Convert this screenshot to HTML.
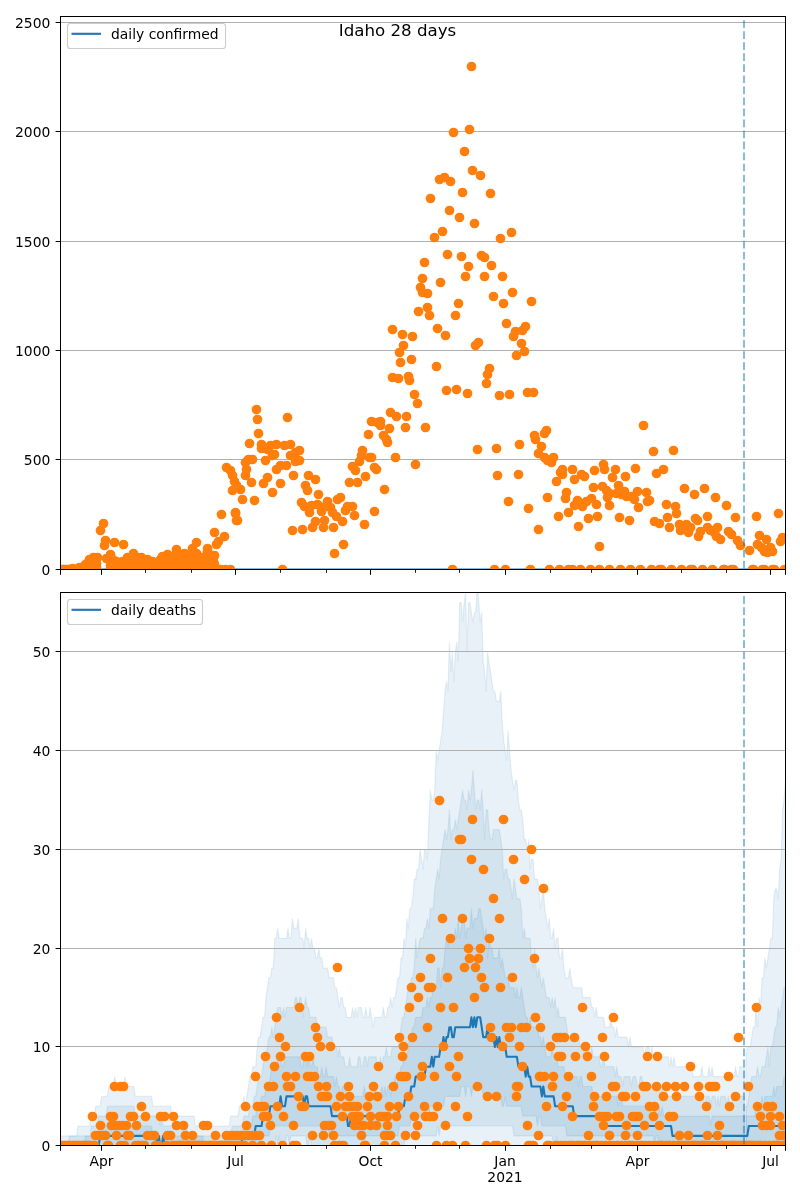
<!DOCTYPE html>
<html lang="en"><head><meta charset="utf-8"><title>Idaho 28 days</title><style>html,body{margin:0;padding:0;background:#fff}body{width:800px;height:1200px;overflow:hidden}</style></head><body>
<svg width="800" height="1200" viewBox="0 0 800 1200" style="display:block;font-family:'DejaVu Sans','Liberation Sans',sans-serif">
<rect width="800" height="1200" fill="#fff"/>
<defs><clipPath id="ct"><rect x="60.5" y="16.5" width="725.0" height="553.0"/></clipPath><clipPath id="cb"><rect x="60.5" y="592.5" width="725.0" height="553.0"/></clipPath></defs>
<g id="top">
<line x1="60.5" x2="785.5" y1="569.50" y2="569.50" stroke="#b0b0b0" stroke-width="1"/>
<line x1="60.5" x2="785.5" y1="459.50" y2="459.50" stroke="#b0b0b0" stroke-width="1"/>
<line x1="60.5" x2="785.5" y1="350.50" y2="350.50" stroke="#b0b0b0" stroke-width="1"/>
<line x1="60.5" x2="785.5" y1="241.50" y2="241.50" stroke="#b0b0b0" stroke-width="1"/>
<line x1="60.5" x2="785.5" y1="131.50" y2="131.50" stroke="#b0b0b0" stroke-width="1"/>
<line x1="60.5" x2="785.5" y1="22.50" y2="22.50" stroke="#b0b0b0" stroke-width="1"/>
<g clip-path="url(#ct)">
<line x1="60.5" x2="785.5" y1="569.5" y2="569.5" stroke="#1f77b4" stroke-width="2.1"/>
<g fill="#ff7f0e"><circle cx="226.5" cy="467.5" r="4.86"/><circle cx="230.5" cy="470.5" r="4.86"/><circle cx="232.5" cy="475.5" r="4.86"/><circle cx="234.5" cy="481.5" r="4.86"/><circle cx="236.5" cy="485.5" r="4.86"/><circle cx="240.5" cy="489.5" r="4.86"/><circle cx="232.5" cy="490.5" r="4.86"/><circle cx="242.5" cy="499.5" r="4.86"/><circle cx="235.5" cy="512.5" r="4.86"/><circle cx="237.5" cy="520.5" r="4.86"/><circle cx="245.5" cy="462.5" r="4.86"/><circle cx="246.5" cy="469.5" r="4.86"/><circle cx="245.5" cy="475.5" r="4.86"/><circle cx="251.5" cy="482.5" r="4.86"/><circle cx="254.5" cy="500.5" r="4.86"/><circle cx="249.5" cy="443.5" r="4.86"/><circle cx="248.5" cy="459.5" r="4.86"/><circle cx="252.5" cy="459.5" r="4.86"/><circle cx="256.5" cy="409.5" r="4.86"/><circle cx="257.5" cy="419.5" r="4.86"/><circle cx="258.5" cy="433.5" r="4.86"/><circle cx="261.5" cy="444.5" r="4.86"/><circle cx="261.5" cy="448.5" r="4.86"/><circle cx="267.5" cy="449.5" r="4.86"/><circle cx="270.5" cy="445.5" r="4.86"/><circle cx="265.5" cy="460.5" r="4.86"/><circle cx="272.5" cy="455.5" r="4.86"/><circle cx="276.5" cy="444.5" r="4.86"/><circle cx="274.5" cy="454.5" r="4.86"/><circle cx="284.5" cy="445.5" r="4.86"/><circle cx="290.5" cy="444.5" r="4.86"/><circle cx="287.5" cy="417.5" r="4.86"/><circle cx="267.5" cy="477.5" r="4.86"/><circle cx="263.5" cy="483.5" r="4.86"/><circle cx="272.5" cy="492.5" r="4.86"/><circle cx="280.5" cy="483.5" r="4.86"/><circle cx="276.5" cy="469.5" r="4.86"/><circle cx="280.5" cy="465.5" r="4.86"/><circle cx="286.5" cy="465.5" r="4.86"/><circle cx="290.5" cy="455.5" r="4.86"/><circle cx="295.5" cy="452.5" r="4.86"/><circle cx="299.5" cy="450.5" r="4.86"/><circle cx="295.5" cy="461.5" r="4.86"/><circle cx="299.5" cy="460.5" r="4.86"/><circle cx="293.5" cy="475.5" r="4.86"/><circle cx="308.5" cy="475.5" r="4.86"/><circle cx="315.5" cy="479.5" r="4.86"/><circle cx="305.5" cy="485.5" r="4.86"/><circle cx="307.5" cy="490.5" r="4.86"/><circle cx="318.5" cy="494.5" r="4.86"/><circle cx="301.5" cy="502.5" r="4.86"/><circle cx="304.5" cy="506.5" r="4.86"/><circle cx="311.5" cy="505.5" r="4.86"/><circle cx="309.5" cy="512.5" r="4.86"/><circle cx="317.5" cy="504.5" r="4.86"/><circle cx="321.5" cy="511.5" r="4.86"/><circle cx="327.5" cy="501.5" r="4.86"/><circle cx="325.5" cy="506.5" r="4.86"/><circle cx="330.5" cy="507.5" r="4.86"/><circle cx="332.5" cy="512.5" r="4.86"/><circle cx="337.5" cy="499.5" r="4.86"/><circle cx="340.5" cy="497.5" r="4.86"/><circle cx="336.5" cy="516.5" r="4.86"/><circle cx="342.5" cy="521.5" r="4.86"/><circle cx="345.5" cy="510.5" r="4.86"/><circle cx="347.5" cy="506.5" r="4.86"/><circle cx="352.5" cy="506.5" r="4.86"/><circle cx="354.5" cy="515.5" r="4.86"/><circle cx="315.5" cy="521.5" r="4.86"/><circle cx="324.5" cy="520.5" r="4.86"/><circle cx="312.5" cy="527.5" r="4.86"/><circle cx="323.5" cy="527.5" r="4.86"/><circle cx="333.5" cy="527.5" r="4.86"/><circle cx="292.5" cy="530.5" r="4.86"/><circle cx="302.5" cy="529.5" r="4.86"/><circle cx="364.5" cy="524.5" r="4.86"/><circle cx="374.5" cy="511.5" r="4.86"/><circle cx="343.5" cy="544.5" r="4.86"/><circle cx="334.5" cy="553.5" r="4.86"/><circle cx="282.5" cy="569.5" r="4.86"/><circle cx="349.5" cy="482.5" r="4.86"/><circle cx="357.5" cy="482.5" r="4.86"/><circle cx="355.5" cy="470.5" r="4.86"/><circle cx="352.5" cy="466.5" r="4.86"/><circle cx="365.5" cy="476.5" r="4.86"/><circle cx="359.5" cy="461.5" r="4.86"/><circle cx="361.5" cy="455.5" r="4.86"/><circle cx="362.5" cy="450.5" r="4.86"/><circle cx="369.5" cy="457.5" r="4.86"/><circle cx="371.5" cy="457.5" r="4.86"/><circle cx="374.5" cy="467.5" r="4.86"/><circle cx="376.5" cy="469.5" r="4.86"/><circle cx="384.5" cy="489.5" r="4.86"/><circle cx="368.5" cy="434.5" r="4.86"/><circle cx="371.5" cy="421.5" r="4.86"/><circle cx="377.5" cy="422.5" r="4.86"/><circle cx="380.5" cy="421.5" r="4.86"/><circle cx="380.5" cy="425.5" r="4.86"/><circle cx="389.5" cy="428.5" r="4.86"/><circle cx="383.5" cy="435.5" r="4.86"/><circle cx="386.5" cy="439.5" r="4.86"/><circle cx="387.5" cy="442.5" r="4.86"/><circle cx="390.5" cy="412.5" r="4.86"/><circle cx="396.5" cy="416.5" r="4.86"/><circle cx="406.5" cy="416.5" r="4.86"/><circle cx="405.5" cy="427.5" r="4.86"/><circle cx="395.5" cy="457.5" r="4.86"/><circle cx="415.5" cy="464.5" r="4.86"/><circle cx="425.5" cy="427.5" r="4.86"/><circle cx="417.5" cy="403.5" r="4.86"/><circle cx="414.5" cy="394.5" r="4.86"/><circle cx="392.5" cy="377.5" r="4.86"/><circle cx="398.5" cy="378.5" r="4.86"/><circle cx="408.5" cy="376.5" r="4.86"/><circle cx="409.5" cy="380.5" r="4.86"/><circle cx="400.5" cy="362.5" r="4.86"/><circle cx="411.5" cy="359.5" r="4.86"/><circle cx="399.5" cy="352.5" r="4.86"/><circle cx="403.5" cy="345.5" r="4.86"/><circle cx="392.5" cy="329.5" r="4.86"/><circle cx="402.5" cy="334.5" r="4.86"/><circle cx="412.5" cy="336.5" r="4.86"/><circle cx="418.5" cy="311.5" r="4.86"/><circle cx="427.5" cy="307.5" r="4.86"/><circle cx="429.5" cy="315.5" r="4.86"/><circle cx="420.5" cy="287.5" r="4.86"/><circle cx="422.5" cy="292.5" r="4.86"/><circle cx="427.5" cy="293.5" r="4.86"/><circle cx="422.5" cy="278.5" r="4.86"/><circle cx="471.5" cy="66.5" r="4.86"/><circle cx="453.5" cy="132.5" r="4.86"/><circle cx="469.5" cy="129.5" r="4.86"/><circle cx="464.5" cy="151.5" r="4.86"/><circle cx="472.5" cy="170.5" r="4.86"/><circle cx="480.5" cy="175.5" r="4.86"/><circle cx="439.5" cy="179.5" r="4.86"/><circle cx="444.5" cy="177.5" r="4.86"/><circle cx="450.5" cy="181.5" r="4.86"/><circle cx="462.5" cy="192.5" r="4.86"/><circle cx="490.5" cy="193.5" r="4.86"/><circle cx="430.5" cy="198.5" r="4.86"/><circle cx="449.5" cy="210.5" r="4.86"/><circle cx="459.5" cy="217.5" r="4.86"/><circle cx="474.5" cy="223.5" r="4.86"/><circle cx="442.5" cy="231.5" r="4.86"/><circle cx="434.5" cy="237.5" r="4.86"/><circle cx="511.5" cy="232.5" r="4.86"/><circle cx="500.5" cy="238.5" r="4.86"/><circle cx="447.5" cy="254.5" r="4.86"/><circle cx="461.5" cy="256.5" r="4.86"/><circle cx="481.5" cy="255.5" r="4.86"/><circle cx="484.5" cy="257.5" r="4.86"/><circle cx="424.5" cy="262.5" r="4.86"/><circle cx="468.5" cy="266.5" r="4.86"/><circle cx="491.5" cy="265.5" r="4.86"/><circle cx="465.5" cy="276.5" r="4.86"/><circle cx="484.5" cy="276.5" r="4.86"/><circle cx="502.5" cy="276.5" r="4.86"/><circle cx="440.5" cy="282.5" r="4.86"/><circle cx="512.5" cy="292.5" r="4.86"/><circle cx="493.5" cy="296.5" r="4.86"/><circle cx="503.5" cy="303.5" r="4.86"/><circle cx="531.5" cy="301.5" r="4.86"/><circle cx="458.5" cy="303.5" r="4.86"/><circle cx="455.5" cy="315.5" r="4.86"/><circle cx="506.5" cy="323.5" r="4.86"/><circle cx="525.5" cy="326.5" r="4.86"/><circle cx="522.5" cy="330.5" r="4.86"/><circle cx="515.5" cy="331.5" r="4.86"/><circle cx="513.5" cy="336.5" r="4.86"/><circle cx="437.5" cy="328.5" r="4.86"/><circle cx="445.5" cy="335.5" r="4.86"/><circle cx="475.5" cy="345.5" r="4.86"/><circle cx="478.5" cy="342.5" r="4.86"/><circle cx="521.5" cy="343.5" r="4.86"/><circle cx="524.5" cy="351.5" r="4.86"/><circle cx="516.5" cy="355.5" r="4.86"/><circle cx="436.5" cy="366.5" r="4.86"/><circle cx="489.5" cy="368.5" r="4.86"/><circle cx="487.5" cy="374.5" r="4.86"/><circle cx="486.5" cy="383.5" r="4.86"/><circle cx="446.5" cy="390.5" r="4.86"/><circle cx="456.5" cy="389.5" r="4.86"/><circle cx="467.5" cy="393.5" r="4.86"/><circle cx="499.5" cy="395.5" r="4.86"/><circle cx="509.5" cy="394.5" r="4.86"/><circle cx="527.5" cy="392.5" r="4.86"/><circle cx="533.5" cy="392.5" r="4.86"/><circle cx="477.5" cy="449.5" r="4.86"/><circle cx="496.5" cy="448.5" r="4.86"/><circle cx="519.5" cy="444.5" r="4.86"/><circle cx="546.5" cy="430.5" r="4.86"/><circle cx="544.5" cy="433.5" r="4.86"/><circle cx="534.5" cy="435.5" r="4.86"/><circle cx="535.5" cy="439.5" r="4.86"/><circle cx="541.5" cy="446.5" r="4.86"/><circle cx="538.5" cy="453.5" r="4.86"/><circle cx="544.5" cy="457.5" r="4.86"/><circle cx="553.5" cy="457.5" r="4.86"/><circle cx="551.5" cy="462.5" r="4.86"/><circle cx="547.5" cy="460.5" r="4.86"/><circle cx="497.5" cy="475.5" r="4.86"/><circle cx="518.5" cy="474.5" r="4.86"/><circle cx="508.5" cy="501.5" r="4.86"/><circle cx="528.5" cy="508.5" r="4.86"/><circle cx="538.5" cy="529.5" r="4.86"/><circle cx="562.5" cy="469.5" r="4.86"/><circle cx="560.5" cy="472.5" r="4.86"/><circle cx="562.5" cy="474.5" r="4.86"/><circle cx="556.5" cy="481.5" r="4.86"/><circle cx="572.5" cy="469.5" r="4.86"/><circle cx="574.5" cy="479.5" r="4.86"/><circle cx="581.5" cy="474.5" r="4.86"/><circle cx="584.5" cy="476.5" r="4.86"/><circle cx="594.5" cy="470.5" r="4.86"/><circle cx="603.5" cy="464.5" r="4.86"/><circle cx="604.5" cy="469.5" r="4.86"/><circle cx="615.5" cy="469.5" r="4.86"/><circle cx="612.5" cy="477.5" r="4.86"/><circle cx="625.5" cy="476.5" r="4.86"/><circle cx="547.5" cy="497.5" r="4.86"/><circle cx="566.5" cy="492.5" r="4.86"/><circle cx="565.5" cy="498.5" r="4.86"/><circle cx="593.5" cy="487.5" r="4.86"/><circle cx="602.5" cy="486.5" r="4.86"/><circle cx="606.5" cy="490.5" r="4.86"/><circle cx="609.5" cy="493.5" r="4.86"/><circle cx="607.5" cy="497.5" r="4.86"/><circle cx="618.5" cy="485.5" r="4.86"/><circle cx="616.5" cy="493.5" r="4.86"/><circle cx="624.5" cy="491.5" r="4.86"/><circle cx="621.5" cy="494.5" r="4.86"/><circle cx="626.5" cy="496.5" r="4.86"/><circle cx="568.5" cy="512.5" r="4.86"/><circle cx="558.5" cy="516.5" r="4.86"/><circle cx="574.5" cy="505.5" r="4.86"/><circle cx="577.5" cy="500.5" r="4.86"/><circle cx="582.5" cy="506.5" r="4.86"/><circle cx="580.5" cy="504.5" r="4.86"/><circle cx="586.5" cy="501.5" r="4.86"/><circle cx="591.5" cy="498.5" r="4.86"/><circle cx="596.5" cy="504.5" r="4.86"/><circle cx="609.5" cy="505.5" r="4.86"/><circle cx="588.5" cy="518.5" r="4.86"/><circle cx="597.5" cy="516.5" r="4.86"/><circle cx="619.5" cy="517.5" r="4.86"/><circle cx="578.5" cy="526.5" r="4.86"/><circle cx="599.5" cy="546.5" r="4.86"/><circle cx="629.5" cy="520.5" r="4.86"/><circle cx="635.5" cy="468.5" r="4.86"/><circle cx="643.5" cy="425.5" r="4.86"/><circle cx="653.5" cy="451.5" r="4.86"/><circle cx="673.5" cy="450.5" r="4.86"/><circle cx="663.5" cy="469.5" r="4.86"/><circle cx="656.5" cy="473.5" r="4.86"/><circle cx="631.5" cy="496.5" r="4.86"/><circle cx="634.5" cy="499.5" r="4.86"/><circle cx="637.5" cy="491.5" r="4.86"/><circle cx="638.5" cy="507.5" r="4.86"/><circle cx="646.5" cy="492.5" r="4.86"/><circle cx="649.5" cy="500.5" r="4.86"/><circle cx="647.5" cy="501.5" r="4.86"/><circle cx="666.5" cy="504.5" r="4.86"/><circle cx="675.5" cy="506.5" r="4.86"/><circle cx="676.5" cy="513.5" r="4.86"/><circle cx="667.5" cy="517.5" r="4.86"/><circle cx="654.5" cy="521.5" r="4.86"/><circle cx="659.5" cy="523.5" r="4.86"/><circle cx="669.5" cy="527.5" r="4.86"/><circle cx="684.5" cy="488.5" r="4.86"/><circle cx="694.5" cy="494.5" r="4.86"/><circle cx="704.5" cy="488.5" r="4.86"/><circle cx="715.5" cy="497.5" r="4.86"/><circle cx="726.5" cy="505.5" r="4.86"/><circle cx="735.5" cy="517.5" r="4.86"/><circle cx="707.5" cy="516.5" r="4.86"/><circle cx="679.5" cy="524.5" r="4.86"/><circle cx="680.5" cy="530.5" r="4.86"/><circle cx="686.5" cy="524.5" r="4.86"/><circle cx="690.5" cy="527.5" r="4.86"/><circle cx="688.5" cy="532.5" r="4.86"/><circle cx="695.5" cy="518.5" r="4.86"/><circle cx="697.5" cy="520.5" r="4.86"/><circle cx="700.5" cy="531.5" r="4.86"/><circle cx="698.5" cy="536.5" r="4.86"/><circle cx="707.5" cy="527.5" r="4.86"/><circle cx="710.5" cy="530.5" r="4.86"/><circle cx="717.5" cy="527.5" r="4.86"/><circle cx="714.5" cy="532.5" r="4.86"/><circle cx="716.5" cy="536.5" r="4.86"/><circle cx="720.5" cy="539.5" r="4.86"/><circle cx="728.5" cy="531.5" r="4.86"/><circle cx="731.5" cy="534.5" r="4.86"/><circle cx="737.5" cy="540.5" r="4.86"/><circle cx="740.5" cy="545.5" r="4.86"/><circle cx="749.5" cy="550.5" r="4.86"/><circle cx="756.5" cy="516.5" r="4.86"/><circle cx="778.5" cy="513.5" r="4.86"/><circle cx="759.5" cy="535.5" r="4.86"/><circle cx="766.5" cy="539.5" r="4.86"/><circle cx="757.5" cy="544.5" r="4.86"/><circle cx="761.5" cy="547.5" r="4.86"/><circle cx="764.5" cy="551.5" r="4.86"/><circle cx="770.5" cy="547.5" r="4.86"/><circle cx="772.5" cy="551.5" r="4.86"/><circle cx="767.5" cy="552.5" r="4.86"/><circle cx="780.5" cy="541.5" r="4.86"/><circle cx="782.5" cy="537.5" r="4.86"/><circle cx="103.5" cy="523.5" r="4.86"/><circle cx="100.5" cy="530.5" r="4.86"/><circle cx="105.5" cy="540.5" r="4.86"/><circle cx="104.5" cy="545.5" r="4.86"/><circle cx="114.5" cy="542.5" r="4.86"/><circle cx="123.5" cy="544.5" r="4.86"/><circle cx="221.5" cy="514.5" r="4.86"/><circle cx="235.5" cy="513.5" r="4.86"/><circle cx="236.5" cy="520.5" r="4.86"/><circle cx="214.5" cy="532.5" r="4.86"/><circle cx="224.5" cy="536.5" r="4.86"/><circle cx="218.5" cy="541.5" r="4.86"/><circle cx="216.5" cy="544.5" r="4.86"/><circle cx="196.5" cy="542.5" r="4.86"/><circle cx="192.5" cy="548.5" r="4.86"/><circle cx="207.5" cy="548.5" r="4.86"/><circle cx="176.5" cy="549.5" r="4.86"/><circle cx="184.5" cy="553.5" r="4.86"/><circle cx="167.5" cy="554.5" r="4.86"/><circle cx="162.5" cy="556.5" r="4.86"/><circle cx="214.5" cy="555.5" r="4.86"/><circle cx="201.5" cy="557.5" r="4.86"/><circle cx="173.5" cy="558.5" r="4.86"/><circle cx="209.5" cy="560.5" r="4.86"/><circle cx="72.5" cy="568.5" r="4.86"/><circle cx="79.5" cy="567.5" r="4.86"/><circle cx="85.5" cy="564.5" r="4.86"/><circle cx="89.5" cy="559.5" r="4.86"/><circle cx="93.5" cy="557.5" r="4.86"/><circle cx="97.5" cy="557.5" r="4.86"/><circle cx="106.5" cy="558.5" r="4.86"/><circle cx="110.5" cy="554.5" r="4.86"/><circle cx="116.5" cy="561.5" r="4.86"/><circle cx="122.5" cy="561.5" r="4.86"/><circle cx="127.5" cy="557.5" r="4.86"/><circle cx="133.5" cy="553.5" r="4.86"/><circle cx="137.5" cy="557.5" r="4.86"/><circle cx="141.5" cy="557.5" r="4.86"/><circle cx="147.5" cy="559.5" r="4.86"/><circle cx="152.5" cy="561.5" r="4.86"/><circle cx="156.5" cy="563.5" r="4.86"/><circle cx="160.5" cy="559.5" r="4.86"/><circle cx="176.5" cy="552.5" r="4.86"/><circle cx="188.5" cy="556.5" r="4.86"/><circle cx="192.5" cy="551.5" r="4.86"/><circle cx="196.5" cy="553.5" r="4.86"/><circle cx="207.5" cy="551.5" r="4.86"/><circle cx="60.5" cy="569.5" r="4.86"/><circle cx="62.5" cy="569.5" r="4.86"/><circle cx="63.5" cy="569.5" r="4.86"/><circle cx="65.5" cy="569.5" r="4.86"/><circle cx="66.5" cy="569.5" r="4.86"/><circle cx="68.5" cy="569.5" r="4.86"/><circle cx="69.5" cy="569.5" r="4.86"/><circle cx="71.5" cy="569.5" r="4.86"/><circle cx="72.5" cy="569.5" r="4.86"/><circle cx="73.5" cy="569.5" r="4.86"/><circle cx="75.5" cy="569.5" r="4.86"/><circle cx="76.5" cy="569.5" r="4.86"/><circle cx="78.5" cy="569.5" r="4.86"/><circle cx="79.5" cy="569.5" r="4.86"/><circle cx="81.5" cy="568.5" r="4.86"/><circle cx="81.5" cy="569.5" r="4.86"/><circle cx="82.5" cy="568.5" r="4.86"/><circle cx="82.5" cy="569.5" r="4.86"/><circle cx="84.5" cy="567.5" r="4.86"/><circle cx="84.5" cy="569.5" r="4.86"/><circle cx="85.5" cy="566.5" r="4.86"/><circle cx="85.5" cy="569.5" r="4.86"/><circle cx="87.5" cy="564.5" r="4.86"/><circle cx="87.5" cy="568.5" r="4.86"/><circle cx="87.5" cy="569.5" r="4.86"/><circle cx="88.5" cy="562.5" r="4.86"/><circle cx="88.5" cy="566.5" r="4.86"/><circle cx="88.5" cy="569.5" r="4.86"/><circle cx="90.5" cy="561.5" r="4.86"/><circle cx="90.5" cy="565.5" r="4.86"/><circle cx="90.5" cy="569.5" r="4.86"/><circle cx="91.5" cy="560.5" r="4.86"/><circle cx="91.5" cy="564.5" r="4.86"/><circle cx="91.5" cy="568.5" r="4.86"/><circle cx="91.5" cy="569.5" r="4.86"/><circle cx="93.5" cy="560.5" r="4.86"/><circle cx="93.5" cy="564.5" r="4.86"/><circle cx="93.5" cy="568.5" r="4.86"/><circle cx="93.5" cy="569.5" r="4.86"/><circle cx="94.5" cy="559.5" r="4.86"/><circle cx="94.5" cy="563.5" r="4.86"/><circle cx="94.5" cy="567.5" r="4.86"/><circle cx="94.5" cy="569.5" r="4.86"/><circle cx="96.5" cy="559.5" r="4.86"/><circle cx="96.5" cy="563.5" r="4.86"/><circle cx="96.5" cy="567.5" r="4.86"/><circle cx="96.5" cy="569.5" r="4.86"/><circle cx="110.5" cy="557.5" r="4.86"/><circle cx="110.5" cy="561.5" r="4.86"/><circle cx="110.5" cy="565.5" r="4.86"/><circle cx="110.5" cy="569.5" r="4.86"/><circle cx="112.5" cy="559.5" r="4.86"/><circle cx="112.5" cy="563.5" r="4.86"/><circle cx="112.5" cy="567.5" r="4.86"/><circle cx="112.5" cy="569.5" r="4.86"/><circle cx="113.5" cy="560.5" r="4.86"/><circle cx="113.5" cy="564.5" r="4.86"/><circle cx="113.5" cy="568.5" r="4.86"/><circle cx="113.5" cy="569.5" r="4.86"/><circle cx="115.5" cy="562.5" r="4.86"/><circle cx="115.5" cy="566.5" r="4.86"/><circle cx="115.5" cy="569.5" r="4.86"/><circle cx="116.5" cy="563.5" r="4.86"/><circle cx="116.5" cy="567.5" r="4.86"/><circle cx="116.5" cy="569.5" r="4.86"/><circle cx="118.5" cy="563.5" r="4.86"/><circle cx="118.5" cy="567.5" r="4.86"/><circle cx="118.5" cy="569.5" r="4.86"/><circle cx="119.5" cy="563.5" r="4.86"/><circle cx="119.5" cy="567.5" r="4.86"/><circle cx="119.5" cy="569.5" r="4.86"/><circle cx="120.5" cy="564.5" r="4.86"/><circle cx="120.5" cy="568.5" r="4.86"/><circle cx="120.5" cy="569.5" r="4.86"/><circle cx="122.5" cy="564.5" r="4.86"/><circle cx="122.5" cy="568.5" r="4.86"/><circle cx="122.5" cy="569.5" r="4.86"/><circle cx="123.5" cy="563.5" r="4.86"/><circle cx="123.5" cy="567.5" r="4.86"/><circle cx="123.5" cy="569.5" r="4.86"/><circle cx="125.5" cy="561.5" r="4.86"/><circle cx="125.5" cy="565.5" r="4.86"/><circle cx="125.5" cy="569.5" r="4.86"/><circle cx="126.5" cy="560.5" r="4.86"/><circle cx="126.5" cy="564.5" r="4.86"/><circle cx="126.5" cy="568.5" r="4.86"/><circle cx="126.5" cy="569.5" r="4.86"/><circle cx="128.5" cy="559.5" r="4.86"/><circle cx="128.5" cy="563.5" r="4.86"/><circle cx="128.5" cy="567.5" r="4.86"/><circle cx="128.5" cy="569.5" r="4.86"/><circle cx="129.5" cy="558.5" r="4.86"/><circle cx="129.5" cy="562.5" r="4.86"/><circle cx="129.5" cy="566.5" r="4.86"/><circle cx="129.5" cy="569.5" r="4.86"/><circle cx="131.5" cy="557.5" r="4.86"/><circle cx="131.5" cy="561.5" r="4.86"/><circle cx="131.5" cy="565.5" r="4.86"/><circle cx="131.5" cy="569.5" r="4.86"/><circle cx="132.5" cy="556.5" r="4.86"/><circle cx="132.5" cy="560.5" r="4.86"/><circle cx="132.5" cy="564.5" r="4.86"/><circle cx="132.5" cy="568.5" r="4.86"/><circle cx="132.5" cy="569.5" r="4.86"/><circle cx="134.5" cy="557.5" r="4.86"/><circle cx="134.5" cy="561.5" r="4.86"/><circle cx="134.5" cy="565.5" r="4.86"/><circle cx="134.5" cy="569.5" r="4.86"/><circle cx="135.5" cy="558.5" r="4.86"/><circle cx="135.5" cy="562.5" r="4.86"/><circle cx="135.5" cy="566.5" r="4.86"/><circle cx="135.5" cy="569.5" r="4.86"/><circle cx="137.5" cy="559.5" r="4.86"/><circle cx="137.5" cy="563.5" r="4.86"/><circle cx="137.5" cy="567.5" r="4.86"/><circle cx="137.5" cy="569.5" r="4.86"/><circle cx="138.5" cy="559.5" r="4.86"/><circle cx="138.5" cy="563.5" r="4.86"/><circle cx="138.5" cy="567.5" r="4.86"/><circle cx="138.5" cy="569.5" r="4.86"/><circle cx="140.5" cy="560.5" r="4.86"/><circle cx="140.5" cy="564.5" r="4.86"/><circle cx="140.5" cy="568.5" r="4.86"/><circle cx="140.5" cy="569.5" r="4.86"/><circle cx="141.5" cy="560.5" r="4.86"/><circle cx="141.5" cy="564.5" r="4.86"/><circle cx="141.5" cy="568.5" r="4.86"/><circle cx="141.5" cy="569.5" r="4.86"/><circle cx="143.5" cy="560.5" r="4.86"/><circle cx="143.5" cy="564.5" r="4.86"/><circle cx="143.5" cy="568.5" r="4.86"/><circle cx="143.5" cy="569.5" r="4.86"/><circle cx="144.5" cy="561.5" r="4.86"/><circle cx="144.5" cy="565.5" r="4.86"/><circle cx="144.5" cy="569.5" r="4.86"/><circle cx="145.5" cy="561.5" r="4.86"/><circle cx="145.5" cy="565.5" r="4.86"/><circle cx="145.5" cy="569.5" r="4.86"/><circle cx="147.5" cy="562.5" r="4.86"/><circle cx="147.5" cy="566.5" r="4.86"/><circle cx="147.5" cy="569.5" r="4.86"/><circle cx="148.5" cy="562.5" r="4.86"/><circle cx="148.5" cy="566.5" r="4.86"/><circle cx="148.5" cy="569.5" r="4.86"/><circle cx="150.5" cy="563.5" r="4.86"/><circle cx="150.5" cy="567.5" r="4.86"/><circle cx="150.5" cy="569.5" r="4.86"/><circle cx="151.5" cy="563.5" r="4.86"/><circle cx="151.5" cy="567.5" r="4.86"/><circle cx="151.5" cy="569.5" r="4.86"/><circle cx="153.5" cy="564.5" r="4.86"/><circle cx="153.5" cy="568.5" r="4.86"/><circle cx="153.5" cy="569.5" r="4.86"/><circle cx="154.5" cy="565.5" r="4.86"/><circle cx="154.5" cy="569.5" r="4.86"/><circle cx="156.5" cy="566.5" r="4.86"/><circle cx="156.5" cy="569.5" r="4.86"/><circle cx="157.5" cy="564.5" r="4.86"/><circle cx="157.5" cy="568.5" r="4.86"/><circle cx="157.5" cy="569.5" r="4.86"/><circle cx="159.5" cy="563.5" r="4.86"/><circle cx="159.5" cy="567.5" r="4.86"/><circle cx="159.5" cy="569.5" r="4.86"/><circle cx="160.5" cy="561.5" r="4.86"/><circle cx="160.5" cy="565.5" r="4.86"/><circle cx="160.5" cy="569.5" r="4.86"/><circle cx="162.5" cy="559.5" r="4.86"/><circle cx="162.5" cy="563.5" r="4.86"/><circle cx="162.5" cy="567.5" r="4.86"/><circle cx="162.5" cy="569.5" r="4.86"/><circle cx="163.5" cy="558.5" r="4.86"/><circle cx="163.5" cy="562.5" r="4.86"/><circle cx="163.5" cy="566.5" r="4.86"/><circle cx="163.5" cy="569.5" r="4.86"/><circle cx="165.5" cy="558.5" r="4.86"/><circle cx="165.5" cy="562.5" r="4.86"/><circle cx="165.5" cy="566.5" r="4.86"/><circle cx="165.5" cy="569.5" r="4.86"/><circle cx="166.5" cy="557.5" r="4.86"/><circle cx="166.5" cy="561.5" r="4.86"/><circle cx="166.5" cy="565.5" r="4.86"/><circle cx="166.5" cy="569.5" r="4.86"/><circle cx="167.5" cy="557.5" r="4.86"/><circle cx="167.5" cy="561.5" r="4.86"/><circle cx="167.5" cy="565.5" r="4.86"/><circle cx="167.5" cy="569.5" r="4.86"/><circle cx="169.5" cy="558.5" r="4.86"/><circle cx="169.5" cy="562.5" r="4.86"/><circle cx="169.5" cy="566.5" r="4.86"/><circle cx="169.5" cy="569.5" r="4.86"/><circle cx="170.5" cy="559.5" r="4.86"/><circle cx="170.5" cy="563.5" r="4.86"/><circle cx="170.5" cy="567.5" r="4.86"/><circle cx="170.5" cy="569.5" r="4.86"/><circle cx="172.5" cy="560.5" r="4.86"/><circle cx="172.5" cy="564.5" r="4.86"/><circle cx="172.5" cy="568.5" r="4.86"/><circle cx="172.5" cy="569.5" r="4.86"/><circle cx="173.5" cy="559.5" r="4.86"/><circle cx="173.5" cy="563.5" r="4.86"/><circle cx="173.5" cy="567.5" r="4.86"/><circle cx="173.5" cy="569.5" r="4.86"/><circle cx="175.5" cy="557.5" r="4.86"/><circle cx="175.5" cy="561.5" r="4.86"/><circle cx="175.5" cy="565.5" r="4.86"/><circle cx="175.5" cy="569.5" r="4.86"/><circle cx="176.5" cy="554.5" r="4.86"/><circle cx="176.5" cy="558.5" r="4.86"/><circle cx="176.5" cy="562.5" r="4.86"/><circle cx="176.5" cy="566.5" r="4.86"/><circle cx="176.5" cy="569.5" r="4.86"/><circle cx="178.5" cy="555.5" r="4.86"/><circle cx="178.5" cy="559.5" r="4.86"/><circle cx="178.5" cy="563.5" r="4.86"/><circle cx="178.5" cy="567.5" r="4.86"/><circle cx="178.5" cy="569.5" r="4.86"/><circle cx="179.5" cy="555.5" r="4.86"/><circle cx="179.5" cy="559.5" r="4.86"/><circle cx="179.5" cy="563.5" r="4.86"/><circle cx="179.5" cy="567.5" r="4.86"/><circle cx="179.5" cy="569.5" r="4.86"/><circle cx="181.5" cy="555.5" r="4.86"/><circle cx="181.5" cy="559.5" r="4.86"/><circle cx="181.5" cy="563.5" r="4.86"/><circle cx="181.5" cy="567.5" r="4.86"/><circle cx="181.5" cy="569.5" r="4.86"/><circle cx="182.5" cy="555.5" r="4.86"/><circle cx="182.5" cy="559.5" r="4.86"/><circle cx="182.5" cy="563.5" r="4.86"/><circle cx="182.5" cy="567.5" r="4.86"/><circle cx="182.5" cy="569.5" r="4.86"/><circle cx="184.5" cy="556.5" r="4.86"/><circle cx="184.5" cy="560.5" r="4.86"/><circle cx="184.5" cy="564.5" r="4.86"/><circle cx="184.5" cy="568.5" r="4.86"/><circle cx="184.5" cy="569.5" r="4.86"/><circle cx="185.5" cy="557.5" r="4.86"/><circle cx="185.5" cy="561.5" r="4.86"/><circle cx="185.5" cy="565.5" r="4.86"/><circle cx="185.5" cy="569.5" r="4.86"/><circle cx="187.5" cy="558.5" r="4.86"/><circle cx="187.5" cy="562.5" r="4.86"/><circle cx="187.5" cy="566.5" r="4.86"/><circle cx="187.5" cy="569.5" r="4.86"/><circle cx="188.5" cy="558.5" r="4.86"/><circle cx="188.5" cy="562.5" r="4.86"/><circle cx="188.5" cy="566.5" r="4.86"/><circle cx="188.5" cy="569.5" r="4.86"/><circle cx="190.5" cy="556.5" r="4.86"/><circle cx="190.5" cy="560.5" r="4.86"/><circle cx="190.5" cy="564.5" r="4.86"/><circle cx="190.5" cy="568.5" r="4.86"/><circle cx="190.5" cy="569.5" r="4.86"/><circle cx="191.5" cy="555.5" r="4.86"/><circle cx="191.5" cy="559.5" r="4.86"/><circle cx="191.5" cy="563.5" r="4.86"/><circle cx="191.5" cy="567.5" r="4.86"/><circle cx="191.5" cy="569.5" r="4.86"/><circle cx="192.5" cy="553.5" r="4.86"/><circle cx="192.5" cy="557.5" r="4.86"/><circle cx="192.5" cy="561.5" r="4.86"/><circle cx="192.5" cy="565.5" r="4.86"/><circle cx="192.5" cy="569.5" r="4.86"/><circle cx="194.5" cy="554.5" r="4.86"/><circle cx="194.5" cy="558.5" r="4.86"/><circle cx="194.5" cy="562.5" r="4.86"/><circle cx="194.5" cy="566.5" r="4.86"/><circle cx="194.5" cy="569.5" r="4.86"/><circle cx="195.5" cy="555.5" r="4.86"/><circle cx="195.5" cy="559.5" r="4.86"/><circle cx="195.5" cy="563.5" r="4.86"/><circle cx="195.5" cy="567.5" r="4.86"/><circle cx="195.5" cy="569.5" r="4.86"/><circle cx="197.5" cy="556.5" r="4.86"/><circle cx="197.5" cy="560.5" r="4.86"/><circle cx="197.5" cy="564.5" r="4.86"/><circle cx="197.5" cy="568.5" r="4.86"/><circle cx="197.5" cy="569.5" r="4.86"/><circle cx="198.5" cy="557.5" r="4.86"/><circle cx="198.5" cy="561.5" r="4.86"/><circle cx="198.5" cy="565.5" r="4.86"/><circle cx="198.5" cy="569.5" r="4.86"/><circle cx="200.5" cy="559.5" r="4.86"/><circle cx="200.5" cy="563.5" r="4.86"/><circle cx="200.5" cy="567.5" r="4.86"/><circle cx="200.5" cy="569.5" r="4.86"/><circle cx="201.5" cy="560.5" r="4.86"/><circle cx="201.5" cy="564.5" r="4.86"/><circle cx="201.5" cy="568.5" r="4.86"/><circle cx="201.5" cy="569.5" r="4.86"/><circle cx="203.5" cy="558.5" r="4.86"/><circle cx="203.5" cy="562.5" r="4.86"/><circle cx="203.5" cy="566.5" r="4.86"/><circle cx="203.5" cy="569.5" r="4.86"/><circle cx="204.5" cy="557.5" r="4.86"/><circle cx="204.5" cy="561.5" r="4.86"/><circle cx="204.5" cy="565.5" r="4.86"/><circle cx="204.5" cy="569.5" r="4.86"/><circle cx="206.5" cy="555.5" r="4.86"/><circle cx="206.5" cy="559.5" r="4.86"/><circle cx="206.5" cy="563.5" r="4.86"/><circle cx="206.5" cy="567.5" r="4.86"/><circle cx="206.5" cy="569.5" r="4.86"/><circle cx="207.5" cy="553.5" r="4.86"/><circle cx="207.5" cy="557.5" r="4.86"/><circle cx="207.5" cy="561.5" r="4.86"/><circle cx="207.5" cy="565.5" r="4.86"/><circle cx="207.5" cy="569.5" r="4.86"/><circle cx="209.5" cy="554.5" r="4.86"/><circle cx="209.5" cy="558.5" r="4.86"/><circle cx="209.5" cy="562.5" r="4.86"/><circle cx="209.5" cy="566.5" r="4.86"/><circle cx="209.5" cy="569.5" r="4.86"/><circle cx="210.5" cy="555.5" r="4.86"/><circle cx="210.5" cy="559.5" r="4.86"/><circle cx="210.5" cy="563.5" r="4.86"/><circle cx="210.5" cy="567.5" r="4.86"/><circle cx="210.5" cy="569.5" r="4.86"/><circle cx="212.5" cy="556.5" r="4.86"/><circle cx="212.5" cy="560.5" r="4.86"/><circle cx="212.5" cy="564.5" r="4.86"/><circle cx="212.5" cy="568.5" r="4.86"/><circle cx="212.5" cy="569.5" r="4.86"/><circle cx="213.5" cy="557.5" r="4.86"/><circle cx="213.5" cy="561.5" r="4.86"/><circle cx="213.5" cy="565.5" r="4.86"/><circle cx="213.5" cy="569.5" r="4.86"/><circle cx="214.5" cy="564.5" r="4.86"/><circle cx="214.5" cy="568.5" r="4.86"/><circle cx="214.5" cy="569.5" r="4.86"/><circle cx="220.5" cy="569.5" r="4.86"/><circle cx="225.5" cy="569.5" r="4.86"/><circle cx="230.5" cy="569.5" r="4.86"/><circle cx="452.5" cy="569.5" r="4.86"/><circle cx="494.5" cy="569.5" r="4.86"/><circle cx="505.5" cy="569.5" r="4.86"/><circle cx="530.5" cy="569.5" r="4.86"/><circle cx="549.5" cy="569.5" r="4.86"/><circle cx="559.5" cy="569.5" r="4.86"/><circle cx="568.5" cy="569.5" r="4.86"/><circle cx="572.5" cy="569.5" r="4.86"/><circle cx="580.5" cy="569.5" r="4.86"/><circle cx="590.5" cy="569.5" r="4.86"/><circle cx="599.5" cy="569.5" r="4.86"/><circle cx="609.5" cy="569.5" r="4.86"/><circle cx="620.5" cy="569.5" r="4.86"/><circle cx="630.5" cy="569.5" r="4.86"/><circle cx="640.5" cy="569.5" r="4.86"/><circle cx="651.5" cy="569.5" r="4.86"/><circle cx="659.5" cy="569.5" r="4.86"/><circle cx="661.5" cy="569.5" r="4.86"/><circle cx="671.5" cy="569.5" r="4.86"/><circle cx="681.5" cy="569.5" r="4.86"/><circle cx="690.5" cy="569.5" r="4.86"/><circle cx="692.5" cy="569.5" r="4.86"/><circle cx="702.5" cy="569.5" r="4.86"/><circle cx="712.5" cy="569.5" r="4.86"/><circle cx="723.5" cy="569.5" r="4.86"/><circle cx="724.5" cy="569.5" r="4.86"/><circle cx="731.5" cy="569.5" r="4.86"/><circle cx="733.5" cy="569.5" r="4.86"/><circle cx="752.5" cy="569.5" r="4.86"/><circle cx="753.5" cy="569.5" r="4.86"/><circle cx="762.5" cy="569.5" r="4.86"/><circle cx="764.5" cy="569.5" r="4.86"/><circle cx="772.5" cy="569.5" r="4.86"/><circle cx="774.5" cy="569.5" r="4.86"/><circle cx="784.5" cy="569.5" r="4.86"/></g>
<line x1="744" x2="744" y1="16.5" y2="569.5" stroke="#1f77b4" stroke-opacity="0.5" stroke-width="2.1" stroke-dasharray="7.7 3.33" stroke-dashoffset="7.28"/>
</g>
<line x1="101.50" x2="101.50" y1="569.5" y2="574.8" stroke="#000" stroke-width="1"/><line x1="145.50" x2="145.50" y1="569.5" y2="572.8" stroke="#000" stroke-width="0.9"/><line x1="191.50" x2="191.50" y1="569.5" y2="572.8" stroke="#000" stroke-width="0.9"/><line x1="235.50" x2="235.50" y1="569.5" y2="574.8" stroke="#000" stroke-width="1"/><line x1="280.50" x2="280.50" y1="569.5" y2="572.8" stroke="#000" stroke-width="0.9"/><line x1="326.50" x2="326.50" y1="569.5" y2="572.8" stroke="#000" stroke-width="0.9"/><line x1="370.50" x2="370.50" y1="569.5" y2="574.8" stroke="#000" stroke-width="1"/><line x1="415.50" x2="415.50" y1="569.5" y2="572.8" stroke="#000" stroke-width="0.9"/><line x1="459.50" x2="459.50" y1="569.5" y2="572.8" stroke="#000" stroke-width="0.9"/><line x1="505.50" x2="505.50" y1="569.5" y2="574.8" stroke="#000" stroke-width="1"/><line x1="550.50" x2="550.50" y1="569.5" y2="572.8" stroke="#000" stroke-width="0.9"/><line x1="591.50" x2="591.50" y1="569.5" y2="572.8" stroke="#000" stroke-width="0.9"/><line x1="637.50" x2="637.50" y1="569.5" y2="574.8" stroke="#000" stroke-width="1"/><line x1="681.50" x2="681.50" y1="569.5" y2="572.8" stroke="#000" stroke-width="0.9"/><line x1="726.50" x2="726.50" y1="569.5" y2="572.8" stroke="#000" stroke-width="0.9"/><line x1="770.50" x2="770.50" y1="569.5" y2="574.8" stroke="#000" stroke-width="1"/><line x1="60.50" x2="60.50" y1="569.5" y2="574.8" stroke="#000" stroke-width="1"/><line x1="785.50" x2="785.50" y1="569.5" y2="574.8" stroke="#000" stroke-width="1"/>
<line x1="55.6" x2="60.5" y1="569.50" y2="569.50" stroke="#000" stroke-width="1"/>
<text x="50.3" y="575.10" font-size="13.89" text-anchor="end">0</text>
<line x1="55.6" x2="60.5" y1="459.50" y2="459.50" stroke="#000" stroke-width="1"/>
<text x="50.3" y="465.10" font-size="13.89" text-anchor="end">500</text>
<line x1="55.6" x2="60.5" y1="350.50" y2="350.50" stroke="#000" stroke-width="1"/>
<text x="50.3" y="356.10" font-size="13.89" text-anchor="end">1000</text>
<line x1="55.6" x2="60.5" y1="241.50" y2="241.50" stroke="#000" stroke-width="1"/>
<text x="50.3" y="247.10" font-size="13.89" text-anchor="end">1500</text>
<line x1="55.6" x2="60.5" y1="131.50" y2="131.50" stroke="#000" stroke-width="1"/>
<text x="50.3" y="137.10" font-size="13.89" text-anchor="end">2000</text>
<line x1="55.6" x2="60.5" y1="22.50" y2="22.50" stroke="#000" stroke-width="1"/>
<text x="50.3" y="28.10" font-size="13.89" text-anchor="end">2500</text>
<rect x="60.5" y="16.5" width="725.0" height="553.0" fill="none" stroke="#000" stroke-width="1"/>
<rect x="67.5" y="23.5" width="158" height="25" rx="2.8" fill="#fff" fill-opacity="0.8" stroke="#ccc" stroke-width="1.1"/>
<line x1="71.5" x2="101" y1="33.8" y2="33.8" stroke="#1f77b4" stroke-width="2.1"/>
<text x="111" y="39" font-size="13.89">daily confirmed</text>
</g>
<text x="397.5" y="36" font-size="16.67" text-anchor="middle">Idaho 28 days</text>
<g id="bot">
<g fill="#1f77b4" fill-opacity="0.1" stroke="#1f77b4" stroke-opacity="0.1" stroke-width="1.2" stroke-linejoin="round" clip-path="url(#cb)">
<polygon points="60.5,1135.9 62.0,1135.9 63.4,1135.9 64.9,1135.9 66.4,1135.9 67.8,1135.9 69.3,1135.9 70.8,1135.9 72.2,1135.9 73.7,1135.9 75.2,1135.9 76.6,1135.9 78.1,1126.0 79.6,1126.0 81.0,1126.0 82.5,1126.0 84.0,1126.0 85.4,1126.0 86.9,1126.0 88.4,1126.0 89.9,1126.0 91.3,1116.1 92.8,1116.1 94.3,1116.1 95.7,1106.2 97.2,1106.2 98.7,1106.2 100.1,1106.2 101.6,1096.4 103.1,1096.4 104.5,1096.4 106.0,1096.4 107.5,1096.4 108.9,1086.5 110.4,1086.5 111.9,1086.5 113.3,1086.5 114.8,1076.6 116.3,1086.5 117.7,1086.5 119.2,1086.5 120.7,1086.5 122.1,1086.5 123.6,1086.5 125.1,1076.6 126.5,1086.5 128.0,1086.5 129.5,1086.5 130.9,1086.5 132.4,1086.5 133.9,1086.5 135.3,1096.4 136.8,1096.4 138.3,1096.4 139.8,1096.4 141.2,1096.4 142.7,1096.4 144.2,1096.4 145.6,1096.4 147.1,1096.4 148.6,1096.4 150.0,1096.4 151.5,1096.4 153.0,1106.2 154.4,1106.2 155.9,1106.2 157.4,1106.2 158.8,1106.2 160.3,1106.2 161.8,1106.2 163.2,1106.2 164.7,1106.2 166.2,1106.2 167.6,1106.2 169.1,1106.2 170.6,1106.2 172.0,1116.1 173.5,1116.1 175.0,1116.1 176.4,1116.1 177.9,1116.1 179.4,1116.1 180.8,1116.1 182.3,1116.1 183.8,1116.1 185.2,1116.1 186.7,1116.1 188.2,1116.1 189.6,1116.1 191.1,1116.1 192.6,1116.1 194.1,1116.1 195.5,1126.0 197.0,1126.0 198.5,1126.0 199.9,1126.0 201.4,1126.0 202.9,1126.0 204.3,1126.0 205.8,1126.0 207.3,1126.0 208.7,1126.0 210.2,1126.0 211.7,1126.0 213.1,1126.0 214.6,1126.0 216.1,1126.0 217.5,1126.0 219.0,1126.0 220.5,1126.0 221.9,1126.0 223.4,1126.0 224.9,1126.0 226.3,1126.0 227.8,1126.0 229.3,1126.0 230.7,1116.1 232.2,1116.1 233.7,1116.1 235.1,1116.1 236.6,1116.1 238.1,1116.1 239.5,1106.2 241.0,1106.2 242.5,1106.2 243.9,1096.4 245.4,1106.2 246.9,1096.4 248.4,1086.5 249.8,1076.6 251.3,1076.6 252.8,1066.7 254.2,1066.7 255.7,1066.7 257.2,1047.0 258.6,1037.1 260.1,1037.1 261.6,1027.2 263.0,1017.3 264.5,1017.3 266.0,997.6 267.4,987.7 268.9,977.8 270.4,977.8 271.8,968.0 273.3,968.0 274.8,938.3 276.2,938.3 277.7,928.4 279.2,938.3 280.6,938.3 282.1,938.3 283.6,938.3 285.0,938.3 286.5,938.3 288.0,928.4 289.4,938.3 290.9,938.3 292.4,918.6 293.8,928.4 295.3,928.4 296.8,928.4 298.3,918.6 299.7,938.3 301.2,938.3 302.7,938.3 304.1,948.2 305.6,928.4 307.1,938.3 308.5,938.3 310.0,948.2 311.5,938.3 312.9,948.2 314.4,948.2 315.9,958.1 317.3,958.1 318.8,948.2 320.3,958.1 321.7,958.1 323.2,968.0 324.7,968.0 326.1,968.0 327.6,968.0 329.1,977.8 330.5,977.8 332.0,977.8 333.5,977.8 334.9,987.7 336.4,987.7 337.9,997.6 339.3,1007.5 340.8,997.6 342.3,997.6 343.7,1007.5 345.2,1007.5 346.7,1017.3 348.1,1017.3 349.6,1017.3 351.1,1017.3 352.6,1007.5 354.0,1017.3 355.5,1007.5 357.0,1017.3 358.4,1007.5 359.9,1007.5 361.4,1007.5 362.8,1017.3 364.3,1017.3 365.8,1007.5 367.2,1017.3 368.7,1017.3 370.2,1007.5 371.6,1017.3 373.1,1027.2 374.6,1017.3 376.0,1017.3 377.5,1017.3 379.0,1017.3 380.4,1017.3 381.9,1017.3 383.4,1007.5 384.8,1017.3 386.3,1017.3 387.8,1007.5 389.2,1007.5 390.7,997.6 392.2,1007.5 393.6,997.6 395.1,997.6 396.6,987.7 398.0,977.8 399.5,977.8 401.0,958.1 402.5,958.1 403.9,938.3 405.4,948.2 406.9,918.6 408.3,928.4 409.8,908.7 411.3,908.7 412.7,898.8 414.2,879.1 415.7,879.1 417.1,869.2 418.6,869.2 420.1,849.4 421.5,859.3 423.0,869.2 424.5,849.4 425.9,849.4 427.4,859.3 428.9,819.8 430.3,790.2 431.8,800.0 433.3,800.0 434.7,790.2 436.2,750.7 437.7,760.5 439.1,750.7 440.6,740.8 442.1,730.9 443.5,711.2 445.0,691.4 446.5,681.5 447.9,691.4 449.4,642.0 450.9,671.6 452.3,651.9 453.8,681.5 455.3,651.9 456.8,642.0 458.2,661.8 459.7,602.5 461.2,602.5 462.6,622.3 464.1,602.5 465.6,592.6 467.0,651.9 468.5,602.5 470.0,602.5 471.4,612.4 472.9,622.3 474.4,612.4 475.8,612.4 477.3,582.8 478.8,602.5 480.2,622.3 481.7,612.4 483.2,661.8 484.6,671.6 486.1,691.4 487.6,651.9 489.0,661.8 490.5,671.6 492.0,681.5 493.4,691.4 494.9,691.4 496.4,701.3 497.8,701.3 499.3,701.3 500.8,691.4 502.2,721.0 503.7,740.8 505.2,750.7 506.7,760.5 508.1,730.9 509.6,750.7 511.1,770.4 512.5,780.3 514.0,790.2 515.5,780.3 516.9,780.3 518.4,800.0 519.9,809.9 521.3,809.9 522.8,819.8 524.3,839.6 525.7,839.6 527.2,849.4 528.7,839.6 530.1,869.2 531.6,859.3 533.1,859.3 534.5,879.1 536.0,879.1 537.5,879.1 538.9,888.9 540.4,908.7 541.9,898.8 543.3,888.9 544.8,908.7 546.3,918.6 547.7,928.4 549.2,918.6 550.7,938.3 552.1,938.3 553.6,928.4 555.1,948.2 556.5,938.3 558.0,938.3 559.5,958.1 561.0,958.1 562.4,948.2 563.9,968.0 565.4,977.8 566.8,977.8 568.3,977.8 569.8,968.0 571.2,977.8 572.7,987.7 574.2,987.7 575.6,987.7 577.1,987.7 578.6,987.7 580.0,987.7 581.5,987.7 583.0,997.6 584.4,997.6 585.9,997.6 587.4,997.6 588.8,997.6 590.3,997.6 591.8,1007.5 593.2,1007.5 594.7,1017.3 596.2,1007.5 597.6,1017.3 599.1,1017.3 600.6,1017.3 602.0,1017.3 603.5,1017.3 605.0,1027.2 606.4,1027.2 607.9,1027.2 609.4,1027.2 610.9,1017.3 612.3,1027.2 613.8,1027.2 615.3,1037.1 616.7,1027.2 618.2,1037.1 619.7,1037.1 621.1,1037.1 622.6,1037.1 624.1,1037.1 625.5,1037.1 627.0,1037.1 628.5,1047.0 629.9,1037.1 631.4,1047.0 632.9,1047.0 634.3,1047.0 635.8,1047.0 637.3,1047.0 638.7,1047.0 640.2,1047.0 641.7,1047.0 643.1,1047.0 644.6,1056.8 646.1,1047.0 647.5,1047.0 649.0,1047.0 650.5,1056.8 651.9,1047.0 653.4,1056.8 654.9,1056.8 656.3,1056.8 657.8,1056.8 659.3,1056.8 660.7,1056.8 662.2,1056.8 663.7,1056.8 665.2,1056.8 666.6,1056.8 668.1,1056.8 669.6,1066.7 671.0,1056.8 672.5,1066.7 674.0,1056.8 675.4,1066.7 676.9,1066.7 678.4,1066.7 679.8,1066.7 681.3,1066.7 682.8,1066.7 684.2,1066.7 685.7,1066.7 687.2,1066.7 688.6,1066.7 690.1,1066.7 691.6,1066.7 693.0,1076.6 694.5,1076.6 696.0,1076.6 697.4,1076.6 698.9,1076.6 700.4,1076.6 701.8,1066.7 703.3,1076.6 704.8,1076.6 706.2,1076.6 707.7,1076.6 709.2,1066.7 710.6,1076.6 712.1,1066.7 713.6,1076.6 715.0,1076.6 716.5,1076.6 718.0,1076.6 719.5,1076.6 720.9,1076.6 722.4,1076.6 723.9,1076.6 725.3,1076.6 726.8,1076.6 728.3,1076.6 729.7,1076.6 731.2,1076.6 732.7,1076.6 734.1,1076.6 735.6,1066.7 737.1,1076.6 738.5,1076.6 740.0,1066.7 741.5,1066.7 742.9,1066.7 744.4,1066.7 744.4,1145.7 742.9,1145.7 741.5,1145.7 740.0,1145.7 738.5,1145.7 737.1,1145.7 735.6,1145.7 734.1,1145.7 732.7,1145.7 731.2,1145.7 729.7,1145.7 728.3,1145.7 726.8,1145.7 725.3,1145.7 723.9,1145.7 722.4,1145.7 720.9,1145.7 719.5,1145.7 718.0,1145.7 716.5,1145.7 715.0,1145.7 713.6,1145.7 712.1,1145.7 710.6,1145.7 709.2,1145.7 707.7,1145.7 706.2,1145.7 704.8,1145.7 703.3,1145.7 701.8,1145.7 700.4,1145.7 698.9,1145.7 697.4,1145.7 696.0,1145.7 694.5,1145.7 693.0,1145.7 691.6,1145.7 690.1,1145.7 688.6,1145.7 687.2,1145.7 685.7,1145.7 684.2,1145.7 682.8,1145.7 681.3,1145.7 679.8,1145.7 678.4,1145.7 676.9,1145.7 675.4,1145.7 674.0,1145.7 672.5,1145.7 671.0,1145.7 669.6,1145.7 668.1,1145.7 666.6,1145.7 665.2,1145.7 663.7,1145.7 662.2,1145.7 660.7,1145.7 659.3,1145.7 657.8,1145.7 656.3,1145.7 654.9,1145.7 653.4,1145.7 651.9,1145.7 650.5,1145.7 649.0,1145.7 647.5,1145.7 646.1,1145.7 644.6,1145.7 643.1,1145.7 641.7,1145.7 640.2,1145.7 638.7,1145.7 637.3,1145.7 635.8,1145.7 634.3,1145.7 632.9,1145.7 631.4,1145.7 629.9,1145.7 628.5,1145.7 627.0,1145.7 625.5,1145.7 624.1,1145.7 622.6,1145.7 621.1,1145.7 619.7,1145.7 618.2,1145.7 616.7,1145.7 615.3,1145.7 613.8,1145.7 612.3,1145.7 610.9,1145.7 609.4,1145.7 607.9,1145.7 606.4,1145.7 605.0,1145.7 603.5,1145.7 602.0,1145.7 600.6,1145.7 599.1,1145.7 597.6,1145.7 596.2,1145.7 594.7,1145.7 593.2,1145.7 591.8,1145.7 590.3,1145.7 588.8,1145.7 587.4,1145.7 585.9,1145.7 584.4,1145.7 583.0,1145.7 581.5,1145.7 580.0,1145.7 578.6,1145.7 577.1,1145.7 575.6,1145.7 574.2,1145.7 572.7,1145.7 571.2,1145.7 569.8,1145.7 568.3,1145.7 566.8,1145.7 565.4,1145.7 563.9,1145.7 562.4,1145.7 561.0,1145.7 559.5,1145.7 558.0,1145.7 556.5,1145.7 555.1,1145.7 553.6,1145.7 552.1,1145.7 550.7,1145.7 549.2,1145.7 547.7,1145.7 546.3,1145.7 544.8,1145.7 543.3,1145.7 541.9,1145.7 540.4,1145.7 538.9,1145.7 537.5,1145.7 536.0,1145.7 534.5,1145.7 533.1,1145.7 531.6,1145.7 530.1,1145.7 528.7,1145.7 527.2,1145.7 525.7,1145.7 524.3,1145.7 522.8,1145.7 521.3,1145.7 519.9,1145.7 518.4,1145.7 516.9,1145.7 515.5,1145.7 514.0,1145.7 512.5,1145.7 511.1,1145.7 509.6,1145.7 508.1,1145.7 506.7,1145.7 505.2,1145.7 503.7,1145.7 502.2,1145.7 500.8,1145.7 499.3,1145.7 497.8,1145.7 496.4,1145.7 494.9,1145.7 493.4,1145.7 492.0,1145.7 490.5,1145.7 489.0,1145.7 487.6,1145.7 486.1,1145.7 484.6,1145.7 483.2,1145.7 481.7,1145.7 480.2,1145.7 478.8,1145.7 477.3,1145.7 475.8,1145.7 474.4,1145.7 472.9,1145.7 471.4,1145.7 470.0,1145.7 468.5,1145.7 467.0,1145.7 465.6,1145.7 464.1,1145.7 462.6,1145.7 461.2,1145.7 459.7,1145.7 458.2,1145.7 456.8,1145.7 455.3,1145.7 453.8,1145.7 452.3,1145.7 450.9,1145.7 449.4,1145.7 447.9,1145.7 446.5,1145.7 445.0,1145.7 443.5,1145.7 442.1,1145.7 440.6,1145.7 439.1,1145.7 437.7,1145.7 436.2,1145.7 434.7,1145.7 433.3,1145.7 431.8,1145.7 430.3,1145.7 428.9,1145.7 427.4,1145.7 425.9,1145.7 424.5,1145.7 423.0,1145.7 421.5,1145.7 420.1,1145.7 418.6,1145.7 417.1,1145.7 415.7,1145.7 414.2,1145.7 412.7,1145.7 411.3,1145.7 409.8,1145.7 408.3,1145.7 406.9,1145.7 405.4,1145.7 403.9,1145.7 402.5,1145.7 401.0,1145.7 399.5,1145.7 398.0,1145.7 396.6,1145.7 395.1,1145.7 393.6,1145.7 392.2,1145.7 390.7,1145.7 389.2,1145.7 387.8,1145.7 386.3,1145.7 384.8,1145.7 383.4,1145.7 381.9,1145.7 380.4,1145.7 379.0,1145.7 377.5,1145.7 376.0,1145.7 374.6,1145.7 373.1,1145.7 371.6,1145.7 370.2,1145.7 368.7,1145.7 367.2,1145.7 365.8,1145.7 364.3,1145.7 362.8,1145.7 361.4,1145.7 359.9,1145.7 358.4,1145.7 357.0,1145.7 355.5,1145.7 354.0,1145.7 352.6,1145.7 351.1,1145.7 349.6,1145.7 348.1,1145.7 346.7,1145.7 345.2,1145.7 343.7,1145.7 342.3,1145.7 340.8,1145.7 339.3,1145.7 337.9,1145.7 336.4,1145.7 334.9,1145.7 333.5,1145.7 332.0,1145.7 330.5,1145.7 329.1,1145.7 327.6,1145.7 326.1,1145.7 324.7,1145.7 323.2,1145.7 321.7,1145.7 320.3,1145.7 318.8,1145.7 317.3,1145.7 315.9,1145.7 314.4,1145.7 312.9,1145.7 311.5,1145.7 310.0,1145.7 308.5,1145.7 307.1,1145.7 305.6,1145.7 304.1,1145.7 302.7,1145.7 301.2,1145.7 299.7,1145.7 298.3,1145.7 296.8,1145.7 295.3,1145.7 293.8,1145.7 292.4,1145.7 290.9,1145.7 289.4,1145.7 288.0,1145.7 286.5,1145.7 285.0,1145.7 283.6,1145.7 282.1,1145.7 280.6,1145.7 279.2,1145.7 277.7,1145.7 276.2,1145.7 274.8,1145.7 273.3,1145.7 271.8,1145.7 270.4,1145.7 268.9,1145.7 267.4,1145.7 266.0,1145.7 264.5,1145.7 263.0,1145.7 261.6,1145.7 260.1,1145.7 258.6,1145.7 257.2,1145.7 255.7,1145.7 254.2,1145.7 252.8,1145.7 251.3,1145.7 249.8,1145.7 248.4,1145.7 246.9,1145.7 245.4,1145.7 243.9,1145.7 242.5,1145.7 241.0,1145.7 239.5,1145.7 238.1,1145.7 236.6,1145.7 235.1,1145.7 233.7,1145.7 232.2,1145.7 230.7,1145.7 229.3,1145.7 227.8,1145.7 226.3,1145.7 224.9,1145.7 223.4,1145.7 221.9,1145.7 220.5,1145.7 219.0,1145.7 217.5,1145.7 216.1,1145.7 214.6,1145.7 213.1,1145.7 211.7,1145.7 210.2,1145.7 208.7,1145.7 207.3,1145.7 205.8,1145.7 204.3,1145.7 202.9,1145.7 201.4,1145.7 199.9,1145.7 198.5,1145.7 197.0,1145.7 195.5,1145.7 194.1,1145.7 192.6,1145.7 191.1,1145.7 189.6,1145.7 188.2,1145.7 186.7,1145.7 185.2,1145.7 183.8,1145.7 182.3,1145.7 180.8,1145.7 179.4,1145.7 177.9,1145.7 176.4,1145.7 175.0,1145.7 173.5,1145.7 172.0,1145.7 170.6,1145.7 169.1,1145.7 167.6,1145.7 166.2,1145.7 164.7,1145.7 163.2,1145.7 161.8,1145.7 160.3,1145.7 158.8,1145.7 157.4,1145.7 155.9,1145.7 154.4,1145.7 153.0,1145.7 151.5,1145.7 150.0,1145.7 148.6,1145.7 147.1,1145.7 145.6,1145.7 144.2,1145.7 142.7,1145.7 141.2,1145.7 139.8,1145.7 138.3,1145.7 136.8,1145.7 135.3,1145.7 133.9,1145.7 132.4,1145.7 130.9,1145.7 129.5,1145.7 128.0,1145.7 126.5,1145.7 125.1,1145.7 123.6,1145.7 122.1,1145.7 120.7,1145.7 119.2,1145.7 117.7,1145.7 116.3,1145.7 114.8,1145.7 113.3,1145.7 111.9,1145.7 110.4,1145.7 108.9,1145.7 107.5,1145.7 106.0,1145.7 104.5,1145.7 103.1,1145.7 101.6,1145.7 100.1,1145.7 98.7,1145.7 97.2,1145.7 95.7,1145.7 94.3,1145.7 92.8,1145.7 91.3,1145.7 89.9,1145.7 88.4,1145.7 86.9,1145.7 85.4,1145.7 84.0,1145.7 82.5,1145.7 81.0,1145.7 79.6,1145.7 78.1,1145.7 76.6,1145.7 75.2,1145.7 73.7,1145.7 72.2,1145.7 70.8,1145.7 69.3,1145.7 67.8,1145.7 66.4,1145.7 64.9,1145.7 63.4,1145.7 62.0,1145.7 60.5,1145.7"/>
<polygon points="60.5,1145.7 62.0,1145.7 63.4,1145.7 64.9,1145.7 66.4,1145.7 67.8,1145.7 69.3,1135.9 70.8,1135.9 72.2,1135.9 73.7,1135.9 75.2,1135.9 76.6,1135.9 78.1,1135.9 79.6,1135.9 81.0,1135.9 82.5,1135.9 84.0,1135.9 85.4,1135.9 86.9,1135.9 88.4,1135.9 89.9,1135.9 91.3,1126.0 92.8,1126.0 94.3,1126.0 95.7,1126.0 97.2,1126.0 98.7,1116.1 100.1,1116.1 101.6,1116.1 103.1,1116.1 104.5,1116.1 106.0,1116.1 107.5,1106.2 108.9,1106.2 110.4,1106.2 111.9,1106.2 113.3,1106.2 114.8,1106.2 116.3,1106.2 117.7,1106.2 119.2,1106.2 120.7,1106.2 122.1,1106.2 123.6,1106.2 125.1,1106.2 126.5,1106.2 128.0,1106.2 129.5,1106.2 130.9,1106.2 132.4,1106.2 133.9,1106.2 135.3,1116.1 136.8,1116.1 138.3,1116.1 139.8,1116.1 141.2,1116.1 142.7,1116.1 144.2,1116.1 145.6,1116.1 147.1,1116.1 148.6,1116.1 150.0,1116.1 151.5,1116.1 153.0,1116.1 154.4,1116.1 155.9,1116.1 157.4,1116.1 158.8,1116.1 160.3,1126.0 161.8,1116.1 163.2,1126.0 164.7,1126.0 166.2,1126.0 167.6,1126.0 169.1,1126.0 170.6,1126.0 172.0,1126.0 173.5,1126.0 175.0,1126.0 176.4,1126.0 177.9,1126.0 179.4,1126.0 180.8,1126.0 182.3,1126.0 183.8,1126.0 185.2,1126.0 186.7,1126.0 188.2,1135.9 189.6,1135.9 191.1,1135.9 192.6,1135.9 194.1,1135.9 195.5,1135.9 197.0,1135.9 198.5,1135.9 199.9,1135.9 201.4,1135.9 202.9,1135.9 204.3,1135.9 205.8,1135.9 207.3,1135.9 208.7,1135.9 210.2,1135.9 211.7,1135.9 213.1,1135.9 214.6,1135.9 216.1,1135.9 217.5,1135.9 219.0,1135.9 220.5,1135.9 221.9,1135.9 223.4,1135.9 224.9,1135.9 226.3,1135.9 227.8,1135.9 229.3,1135.9 230.7,1135.9 232.2,1126.0 233.7,1126.0 235.1,1126.0 236.6,1126.0 238.1,1126.0 239.5,1126.0 241.0,1126.0 242.5,1126.0 243.9,1116.1 245.4,1116.1 246.9,1116.1 248.4,1116.1 249.8,1106.2 251.3,1106.2 252.8,1106.2 254.2,1096.4 255.7,1096.4 257.2,1086.5 258.6,1076.6 260.1,1076.6 261.6,1076.6 263.0,1066.7 264.5,1056.8 266.0,1056.8 267.4,1047.0 268.9,1037.1 270.4,1037.1 271.8,1027.2 273.3,1037.1 274.8,1027.2 276.2,1017.3 277.7,1007.5 279.2,1007.5 280.6,1007.5 282.1,1017.3 283.6,1007.5 285.0,1017.3 286.5,1007.5 288.0,1007.5 289.4,1007.5 290.9,1007.5 292.4,1007.5 293.8,1007.5 295.3,997.6 296.8,997.6 298.3,1007.5 299.7,997.6 301.2,997.6 302.7,1017.3 304.1,1007.5 305.6,997.6 307.1,1007.5 308.5,1007.5 310.0,1017.3 311.5,1017.3 312.9,1017.3 314.4,1017.3 315.9,1017.3 317.3,1027.2 318.8,1027.2 320.3,1027.2 321.7,1027.2 323.2,1027.2 324.7,1027.2 326.1,1027.2 327.6,1037.1 329.1,1037.1 330.5,1037.1 332.0,1037.1 333.5,1047.0 334.9,1047.0 336.4,1047.0 337.9,1056.8 339.3,1047.0 340.8,1056.8 342.3,1056.8 343.7,1056.8 345.2,1066.7 346.7,1066.7 348.1,1066.7 349.6,1056.8 351.1,1066.7 352.6,1066.7 354.0,1066.7 355.5,1066.7 357.0,1066.7 358.4,1056.8 359.9,1056.8 361.4,1066.7 362.8,1066.7 364.3,1056.8 365.8,1056.8 367.2,1066.7 368.7,1056.8 370.2,1056.8 371.6,1056.8 373.1,1056.8 374.6,1056.8 376.0,1056.8 377.5,1066.7 379.0,1066.7 380.4,1056.8 381.9,1066.7 383.4,1056.8 384.8,1056.8 386.3,1047.0 387.8,1056.8 389.2,1056.8 390.7,1056.8 392.2,1047.0 393.6,1047.0 395.1,1047.0 396.6,1047.0 398.0,1047.0 399.5,1037.1 401.0,1027.2 402.5,1017.3 403.9,1017.3 405.4,1007.5 406.9,997.6 408.3,987.7 409.8,987.7 411.3,977.8 412.7,977.8 414.2,968.0 415.7,938.3 417.1,958.1 418.6,948.2 420.1,938.3 421.5,938.3 423.0,938.3 424.5,928.4 425.9,928.4 427.4,918.6 428.9,928.4 430.3,908.7 431.8,908.7 433.3,908.7 434.7,888.9 436.2,879.1 437.7,869.2 439.1,879.1 440.6,859.3 442.1,849.4 443.5,839.6 445.0,829.7 446.5,839.6 447.9,829.7 449.4,809.9 450.9,839.6 452.3,829.7 453.8,829.7 455.3,819.8 456.8,829.7 458.2,819.8 459.7,809.9 461.2,800.0 462.6,790.2 464.1,800.0 465.6,800.0 467.0,809.9 468.5,790.2 470.0,800.0 471.4,790.2 472.9,770.4 474.4,790.2 475.8,809.9 477.3,800.0 478.8,800.0 480.2,809.9 481.7,790.2 483.2,809.9 484.6,839.6 486.1,809.9 487.6,809.9 489.0,829.7 490.5,839.6 492.0,839.6 493.4,829.7 494.9,829.7 496.4,829.7 497.8,829.7 499.3,829.7 500.8,839.6 502.2,849.4 503.7,879.1 505.2,869.2 506.7,869.2 508.1,879.1 509.6,879.1 511.1,888.9 512.5,898.8 514.0,879.1 515.5,888.9 516.9,898.8 518.4,898.8 519.9,898.8 521.3,908.7 522.8,938.3 524.3,928.4 525.7,938.3 527.2,938.3 528.7,938.3 530.1,938.3 531.6,958.1 533.1,968.0 534.5,948.2 536.0,968.0 537.5,977.8 538.9,968.0 540.4,977.8 541.9,987.7 543.3,977.8 544.8,987.7 546.3,997.6 547.7,997.6 549.2,997.6 550.7,1007.5 552.1,997.6 553.6,1007.5 555.1,997.6 556.5,1017.3 558.0,1007.5 559.5,1017.3 561.0,1017.3 562.4,1017.3 563.9,1017.3 565.4,1017.3 566.8,1027.2 568.3,1037.1 569.8,1037.1 571.2,1037.1 572.7,1037.1 574.2,1037.1 575.6,1037.1 577.1,1037.1 578.6,1037.1 580.0,1047.0 581.5,1047.0 583.0,1047.0 584.4,1056.8 585.9,1047.0 587.4,1056.8 588.8,1047.0 590.3,1056.8 591.8,1047.0 593.2,1056.8 594.7,1056.8 596.2,1056.8 597.6,1056.8 599.1,1056.8 600.6,1066.7 602.0,1066.7 603.5,1056.8 605.0,1066.7 606.4,1066.7 607.9,1066.7 609.4,1066.7 610.9,1066.7 612.3,1066.7 613.8,1066.7 615.3,1076.6 616.7,1066.7 618.2,1076.6 619.7,1076.6 621.1,1076.6 622.6,1086.5 624.1,1076.6 625.5,1076.6 627.0,1076.6 628.5,1076.6 629.9,1076.6 631.4,1086.5 632.9,1076.6 634.3,1076.6 635.8,1076.6 637.3,1086.5 638.7,1086.5 640.2,1076.6 641.7,1076.6 643.1,1086.5 644.6,1086.5 646.1,1086.5 647.5,1086.5 649.0,1086.5 650.5,1086.5 651.9,1086.5 653.4,1086.5 654.9,1086.5 656.3,1086.5 657.8,1086.5 659.3,1086.5 660.7,1096.4 662.2,1086.5 663.7,1096.4 665.2,1096.4 666.6,1096.4 668.1,1096.4 669.6,1096.4 671.0,1096.4 672.5,1096.4 674.0,1096.4 675.4,1096.4 676.9,1086.5 678.4,1096.4 679.8,1096.4 681.3,1096.4 682.8,1096.4 684.2,1096.4 685.7,1096.4 687.2,1096.4 688.6,1096.4 690.1,1096.4 691.6,1096.4 693.0,1096.4 694.5,1096.4 696.0,1096.4 697.4,1096.4 698.9,1096.4 700.4,1096.4 701.8,1096.4 703.3,1096.4 704.8,1106.2 706.2,1096.4 707.7,1096.4 709.2,1096.4 710.6,1106.2 712.1,1096.4 713.6,1096.4 715.0,1096.4 716.5,1106.2 718.0,1096.4 719.5,1106.2 720.9,1096.4 722.4,1096.4 723.9,1096.4 725.3,1096.4 726.8,1106.2 728.3,1096.4 729.7,1106.2 731.2,1106.2 732.7,1096.4 734.1,1096.4 735.6,1096.4 737.1,1096.4 738.5,1096.4 740.0,1096.4 741.5,1096.4 742.9,1096.4 744.4,1096.4 744.4,1145.7 742.9,1145.7 741.5,1145.7 740.0,1145.7 738.5,1145.7 737.1,1145.7 735.6,1145.7 734.1,1145.7 732.7,1145.7 731.2,1145.7 729.7,1145.7 728.3,1145.7 726.8,1145.7 725.3,1145.7 723.9,1145.7 722.4,1145.7 720.9,1145.7 719.5,1145.7 718.0,1145.7 716.5,1145.7 715.0,1145.7 713.6,1145.7 712.1,1145.7 710.6,1145.7 709.2,1145.7 707.7,1145.7 706.2,1145.7 704.8,1145.7 703.3,1145.7 701.8,1145.7 700.4,1145.7 698.9,1145.7 697.4,1145.7 696.0,1145.7 694.5,1145.7 693.0,1145.7 691.6,1145.7 690.1,1145.7 688.6,1145.7 687.2,1145.7 685.7,1145.7 684.2,1145.7 682.8,1145.7 681.3,1145.7 679.8,1145.7 678.4,1145.7 676.9,1145.7 675.4,1145.7 674.0,1145.7 672.5,1145.7 671.0,1145.7 669.6,1145.7 668.1,1145.7 666.6,1145.7 665.2,1145.7 663.7,1145.7 662.2,1145.7 660.7,1145.7 659.3,1145.7 657.8,1145.7 656.3,1145.7 654.9,1145.7 653.4,1145.7 651.9,1145.7 650.5,1145.7 649.0,1145.7 647.5,1145.7 646.1,1145.7 644.6,1145.7 643.1,1145.7 641.7,1145.7 640.2,1145.7 638.7,1145.7 637.3,1145.7 635.8,1145.7 634.3,1145.7 632.9,1145.7 631.4,1145.7 629.9,1145.7 628.5,1145.7 627.0,1145.7 625.5,1145.7 624.1,1145.7 622.6,1145.7 621.1,1145.7 619.7,1145.7 618.2,1145.7 616.7,1145.7 615.3,1145.7 613.8,1145.7 612.3,1145.7 610.9,1145.7 609.4,1145.7 607.9,1145.7 606.4,1145.7 605.0,1145.7 603.5,1145.7 602.0,1145.7 600.6,1145.7 599.1,1145.7 597.6,1145.7 596.2,1145.7 594.7,1145.7 593.2,1145.7 591.8,1145.7 590.3,1145.7 588.8,1145.7 587.4,1145.7 585.9,1145.7 584.4,1145.7 583.0,1145.7 581.5,1145.7 580.0,1145.7 578.6,1145.7 577.1,1145.7 575.6,1145.7 574.2,1145.7 572.7,1145.7 571.2,1145.7 569.8,1145.7 568.3,1145.7 566.8,1145.7 565.4,1145.7 563.9,1145.7 562.4,1145.7 561.0,1145.7 559.5,1145.7 558.0,1145.7 556.5,1135.9 555.1,1145.7 553.6,1145.7 552.1,1135.9 550.7,1135.9 549.2,1135.9 547.7,1135.9 546.3,1135.9 544.8,1135.9 543.3,1135.9 541.9,1135.9 540.4,1135.9 538.9,1135.9 537.5,1135.9 536.0,1135.9 534.5,1135.9 533.1,1135.9 531.6,1135.9 530.1,1135.9 528.7,1135.9 527.2,1135.9 525.7,1135.9 524.3,1135.9 522.8,1135.9 521.3,1135.9 519.9,1135.9 518.4,1135.9 516.9,1135.9 515.5,1135.9 514.0,1135.9 512.5,1126.0 511.1,1126.0 509.6,1126.0 508.1,1126.0 506.7,1126.0 505.2,1126.0 503.7,1126.0 502.2,1126.0 500.8,1126.0 499.3,1126.0 497.8,1126.0 496.4,1126.0 494.9,1126.0 493.4,1126.0 492.0,1126.0 490.5,1126.0 489.0,1126.0 487.6,1126.0 486.1,1126.0 484.6,1126.0 483.2,1126.0 481.7,1126.0 480.2,1126.0 478.8,1126.0 477.3,1126.0 475.8,1126.0 474.4,1126.0 472.9,1126.0 471.4,1126.0 470.0,1126.0 468.5,1126.0 467.0,1126.0 465.6,1126.0 464.1,1126.0 462.6,1126.0 461.2,1126.0 459.7,1126.0 458.2,1126.0 456.8,1126.0 455.3,1126.0 453.8,1126.0 452.3,1126.0 450.9,1126.0 449.4,1126.0 447.9,1126.0 446.5,1126.0 445.0,1126.0 443.5,1126.0 442.1,1126.0 440.6,1126.0 439.1,1135.9 437.7,1126.0 436.2,1135.9 434.7,1135.9 433.3,1135.9 431.8,1135.9 430.3,1135.9 428.9,1135.9 427.4,1135.9 425.9,1135.9 424.5,1135.9 423.0,1135.9 421.5,1135.9 420.1,1135.9 418.6,1135.9 417.1,1135.9 415.7,1135.9 414.2,1135.9 412.7,1135.9 411.3,1135.9 409.8,1135.9 408.3,1135.9 406.9,1135.9 405.4,1135.9 403.9,1145.7 402.5,1145.7 401.0,1145.7 399.5,1145.7 398.0,1145.7 396.6,1145.7 395.1,1145.7 393.6,1145.7 392.2,1145.7 390.7,1145.7 389.2,1145.7 387.8,1145.7 386.3,1145.7 384.8,1145.7 383.4,1145.7 381.9,1145.7 380.4,1145.7 379.0,1145.7 377.5,1145.7 376.0,1145.7 374.6,1145.7 373.1,1145.7 371.6,1145.7 370.2,1145.7 368.7,1145.7 367.2,1145.7 365.8,1145.7 364.3,1145.7 362.8,1145.7 361.4,1145.7 359.9,1145.7 358.4,1145.7 357.0,1145.7 355.5,1145.7 354.0,1145.7 352.6,1145.7 351.1,1145.7 349.6,1145.7 348.1,1145.7 346.7,1145.7 345.2,1145.7 343.7,1145.7 342.3,1145.7 340.8,1145.7 339.3,1145.7 337.9,1145.7 336.4,1145.7 334.9,1145.7 333.5,1145.7 332.0,1145.7 330.5,1145.7 329.1,1145.7 327.6,1145.7 326.1,1145.7 324.7,1145.7 323.2,1145.7 321.7,1145.7 320.3,1145.7 318.8,1145.7 317.3,1145.7 315.9,1145.7 314.4,1145.7 312.9,1145.7 311.5,1145.7 310.0,1135.9 308.5,1145.7 307.1,1145.7 305.6,1135.9 304.1,1135.9 302.7,1135.9 301.2,1135.9 299.7,1135.9 298.3,1135.9 296.8,1135.9 295.3,1135.9 293.8,1135.9 292.4,1135.9 290.9,1135.9 289.4,1145.7 288.0,1135.9 286.5,1135.9 285.0,1145.7 283.6,1145.7 282.1,1145.7 280.6,1145.7 279.2,1135.9 277.7,1145.7 276.2,1135.9 274.8,1145.7 273.3,1145.7 271.8,1145.7 270.4,1145.7 268.9,1145.7 267.4,1145.7 266.0,1145.7 264.5,1145.7 263.0,1145.7 261.6,1145.7 260.1,1145.7 258.6,1145.7 257.2,1145.7 255.7,1145.7 254.2,1145.7 252.8,1145.7 251.3,1145.7 249.8,1145.7 248.4,1145.7 246.9,1145.7 245.4,1145.7 243.9,1145.7 242.5,1145.7 241.0,1145.7 239.5,1145.7 238.1,1145.7 236.6,1145.7 235.1,1145.7 233.7,1145.7 232.2,1145.7 230.7,1145.7 229.3,1145.7 227.8,1145.7 226.3,1145.7 224.9,1145.7 223.4,1145.7 221.9,1145.7 220.5,1145.7 219.0,1145.7 217.5,1145.7 216.1,1145.7 214.6,1145.7 213.1,1145.7 211.7,1145.7 210.2,1145.7 208.7,1145.7 207.3,1145.7 205.8,1145.7 204.3,1145.7 202.9,1145.7 201.4,1145.7 199.9,1145.7 198.5,1145.7 197.0,1145.7 195.5,1145.7 194.1,1145.7 192.6,1145.7 191.1,1145.7 189.6,1145.7 188.2,1145.7 186.7,1145.7 185.2,1145.7 183.8,1145.7 182.3,1145.7 180.8,1145.7 179.4,1145.7 177.9,1145.7 176.4,1145.7 175.0,1145.7 173.5,1145.7 172.0,1145.7 170.6,1145.7 169.1,1145.7 167.6,1145.7 166.2,1145.7 164.7,1145.7 163.2,1145.7 161.8,1145.7 160.3,1145.7 158.8,1145.7 157.4,1145.7 155.9,1145.7 154.4,1145.7 153.0,1145.7 151.5,1145.7 150.0,1145.7 148.6,1145.7 147.1,1145.7 145.6,1145.7 144.2,1145.7 142.7,1145.7 141.2,1145.7 139.8,1145.7 138.3,1145.7 136.8,1145.7 135.3,1145.7 133.9,1145.7 132.4,1145.7 130.9,1145.7 129.5,1145.7 128.0,1145.7 126.5,1145.7 125.1,1145.7 123.6,1145.7 122.1,1145.7 120.7,1145.7 119.2,1145.7 117.7,1145.7 116.3,1145.7 114.8,1145.7 113.3,1145.7 111.9,1145.7 110.4,1145.7 108.9,1145.7 107.5,1145.7 106.0,1145.7 104.5,1145.7 103.1,1145.7 101.6,1145.7 100.1,1145.7 98.7,1145.7 97.2,1145.7 95.7,1145.7 94.3,1145.7 92.8,1145.7 91.3,1145.7 89.9,1145.7 88.4,1145.7 86.9,1145.7 85.4,1145.7 84.0,1145.7 82.5,1145.7 81.0,1145.7 79.6,1145.7 78.1,1145.7 76.6,1145.7 75.2,1145.7 73.7,1145.7 72.2,1145.7 70.8,1145.7 69.3,1145.7 67.8,1145.7 66.4,1145.7 64.9,1145.7 63.4,1145.7 62.0,1145.7 60.5,1145.7"/>
<polygon points="60.5,1145.7 62.0,1145.7 63.4,1145.7 64.9,1145.7 66.4,1145.7 67.8,1145.7 69.3,1145.7 70.8,1145.7 72.2,1145.7 73.7,1145.7 75.2,1145.7 76.6,1145.7 78.1,1145.7 79.6,1145.7 81.0,1145.7 82.5,1145.7 84.0,1145.7 85.4,1135.9 86.9,1135.9 88.4,1135.9 89.9,1135.9 91.3,1135.9 92.8,1135.9 94.3,1135.9 95.7,1135.9 97.2,1135.9 98.7,1135.9 100.1,1126.0 101.6,1126.0 103.1,1126.0 104.5,1126.0 106.0,1126.0 107.5,1126.0 108.9,1126.0 110.4,1126.0 111.9,1126.0 113.3,1126.0 114.8,1126.0 116.3,1126.0 117.7,1126.0 119.2,1126.0 120.7,1126.0 122.1,1126.0 123.6,1126.0 125.1,1126.0 126.5,1126.0 128.0,1126.0 129.5,1126.0 130.9,1126.0 132.4,1126.0 133.9,1126.0 135.3,1126.0 136.8,1126.0 138.3,1126.0 139.8,1126.0 141.2,1126.0 142.7,1126.0 144.2,1126.0 145.6,1126.0 147.1,1126.0 148.6,1126.0 150.0,1126.0 151.5,1126.0 153.0,1135.9 154.4,1135.9 155.9,1135.9 157.4,1135.9 158.8,1135.9 160.3,1135.9 161.8,1135.9 163.2,1135.9 164.7,1135.9 166.2,1135.9 167.6,1135.9 169.1,1135.9 170.6,1135.9 172.0,1135.9 173.5,1135.9 175.0,1135.9 176.4,1135.9 177.9,1135.9 179.4,1135.9 180.8,1135.9 182.3,1135.9 183.8,1135.9 185.2,1135.9 186.7,1135.9 188.2,1135.9 189.6,1135.9 191.1,1135.9 192.6,1135.9 194.1,1135.9 195.5,1135.9 197.0,1135.9 198.5,1135.9 199.9,1135.9 201.4,1135.9 202.9,1135.9 204.3,1145.7 205.8,1145.7 207.3,1145.7 208.7,1145.7 210.2,1145.7 211.7,1145.7 213.1,1145.7 214.6,1145.7 216.1,1145.7 217.5,1145.7 219.0,1145.7 220.5,1145.7 221.9,1145.7 223.4,1145.7 224.9,1135.9 226.3,1135.9 227.8,1135.9 229.3,1135.9 230.7,1135.9 232.2,1135.9 233.7,1135.9 235.1,1135.9 236.6,1135.9 238.1,1135.9 239.5,1135.9 241.0,1135.9 242.5,1135.9 243.9,1126.0 245.4,1126.0 246.9,1126.0 248.4,1126.0 249.8,1126.0 251.3,1126.0 252.8,1116.1 254.2,1116.1 255.7,1116.1 257.2,1106.2 258.6,1106.2 260.1,1106.2 261.6,1096.4 263.0,1096.4 264.5,1096.4 266.0,1086.5 267.4,1086.5 268.9,1086.5 270.4,1076.6 271.8,1066.7 273.3,1066.7 274.8,1066.7 276.2,1066.7 277.7,1056.8 279.2,1056.8 280.6,1056.8 282.1,1066.7 283.6,1066.7 285.0,1056.8 286.5,1056.8 288.0,1056.8 289.4,1056.8 290.9,1056.8 292.4,1056.8 293.8,1056.8 295.3,1056.8 296.8,1056.8 298.3,1056.8 299.7,1056.8 301.2,1066.7 302.7,1066.7 304.1,1056.8 305.6,1056.8 307.1,1066.7 308.5,1056.8 310.0,1066.7 311.5,1066.7 312.9,1056.8 314.4,1066.7 315.9,1066.7 317.3,1066.7 318.8,1076.6 320.3,1076.6 321.7,1066.7 323.2,1076.6 324.7,1076.6 326.1,1066.7 327.6,1076.6 329.1,1076.6 330.5,1076.6 332.0,1076.6 333.5,1076.6 334.9,1086.5 336.4,1076.6 337.9,1086.5 339.3,1086.5 340.8,1096.4 342.3,1086.5 343.7,1086.5 345.2,1086.5 346.7,1096.4 348.1,1096.4 349.6,1096.4 351.1,1096.4 352.6,1096.4 354.0,1096.4 355.5,1096.4 357.0,1096.4 358.4,1096.4 359.9,1096.4 361.4,1096.4 362.8,1096.4 364.3,1086.5 365.8,1096.4 367.2,1096.4 368.7,1096.4 370.2,1096.4 371.6,1096.4 373.1,1096.4 374.6,1086.5 376.0,1096.4 377.5,1096.4 379.0,1096.4 380.4,1096.4 381.9,1086.5 383.4,1096.4 384.8,1086.5 386.3,1096.4 387.8,1086.5 389.2,1086.5 390.7,1096.4 392.2,1086.5 393.6,1086.5 395.1,1076.6 396.6,1086.5 398.0,1076.6 399.5,1076.6 401.0,1066.7 402.5,1066.7 403.9,1056.8 405.4,1056.8 406.9,1056.8 408.3,1047.0 409.8,1037.1 411.3,1037.1 412.7,1027.2 414.2,1027.2 415.7,1017.3 417.1,1017.3 418.6,1017.3 420.1,1017.3 421.5,1017.3 423.0,1007.5 424.5,1007.5 425.9,1007.5 427.4,997.6 428.9,1007.5 430.3,997.6 431.8,997.6 433.3,987.7 434.7,987.7 436.2,987.7 437.7,968.0 439.1,968.0 440.6,987.7 442.1,968.0 443.5,968.0 445.0,948.2 446.5,938.3 447.9,948.2 449.4,938.3 450.9,938.3 452.3,938.3 453.8,938.3 455.3,928.4 456.8,938.3 458.2,918.6 459.7,938.3 461.2,928.4 462.6,918.6 464.1,918.6 465.6,938.3 467.0,928.4 468.5,928.4 470.0,928.4 471.4,908.7 472.9,928.4 474.4,918.6 475.8,918.6 477.3,918.6 478.8,908.7 480.2,908.7 481.7,918.6 483.2,928.4 484.6,938.3 486.1,928.4 487.6,958.1 489.0,938.3 490.5,948.2 492.0,948.2 493.4,958.1 494.9,958.1 496.4,958.1 497.8,958.1 499.3,948.2 500.8,968.0 502.2,958.1 503.7,968.0 505.2,977.8 506.7,977.8 508.1,977.8 509.6,987.7 511.1,987.7 512.5,987.7 514.0,987.7 515.5,997.6 516.9,987.7 518.4,997.6 519.9,997.6 521.3,987.7 522.8,997.6 524.3,1007.5 525.7,1017.3 527.2,1017.3 528.7,1027.2 530.1,1017.3 531.6,1027.2 533.1,1027.2 534.5,1027.2 536.0,1027.2 537.5,1027.2 538.9,1037.1 540.4,1037.1 541.9,1047.0 543.3,1037.1 544.8,1047.0 546.3,1056.8 547.7,1056.8 549.2,1056.8 550.7,1056.8 552.1,1047.0 553.6,1056.8 555.1,1056.8 556.5,1056.8 558.0,1066.7 559.5,1066.7 561.0,1066.7 562.4,1066.7 563.9,1066.7 565.4,1076.6 566.8,1076.6 568.3,1076.6 569.8,1076.6 571.2,1076.6 572.7,1076.6 574.2,1076.6 575.6,1076.6 577.1,1076.6 578.6,1086.5 580.0,1076.6 581.5,1076.6 583.0,1086.5 584.4,1086.5 585.9,1086.5 587.4,1086.5 588.8,1086.5 590.3,1086.5 591.8,1086.5 593.2,1096.4 594.7,1096.4 596.2,1096.4 597.6,1096.4 599.1,1096.4 600.6,1096.4 602.0,1096.4 603.5,1096.4 605.0,1096.4 606.4,1096.4 607.9,1096.4 609.4,1096.4 610.9,1096.4 612.3,1096.4 613.8,1096.4 615.3,1096.4 616.7,1096.4 618.2,1106.2 619.7,1096.4 621.1,1096.4 622.6,1106.2 624.1,1106.2 625.5,1106.2 627.0,1106.2 628.5,1106.2 629.9,1106.2 631.4,1106.2 632.9,1106.2 634.3,1106.2 635.8,1106.2 637.3,1106.2 638.7,1106.2 640.2,1106.2 641.7,1106.2 643.1,1106.2 644.6,1106.2 646.1,1106.2 647.5,1106.2 649.0,1106.2 650.5,1106.2 651.9,1116.1 653.4,1116.1 654.9,1106.2 656.3,1116.1 657.8,1116.1 659.3,1106.2 660.7,1116.1 662.2,1106.2 663.7,1116.1 665.2,1116.1 666.6,1116.1 668.1,1116.1 669.6,1116.1 671.0,1116.1 672.5,1116.1 674.0,1116.1 675.4,1116.1 676.9,1116.1 678.4,1116.1 679.8,1116.1 681.3,1116.1 682.8,1116.1 684.2,1116.1 685.7,1116.1 687.2,1116.1 688.6,1116.1 690.1,1116.1 691.6,1116.1 693.0,1116.1 694.5,1116.1 696.0,1116.1 697.4,1116.1 698.9,1116.1 700.4,1116.1 701.8,1116.1 703.3,1116.1 704.8,1116.1 706.2,1116.1 707.7,1116.1 709.2,1116.1 710.6,1126.0 712.1,1116.1 713.6,1116.1 715.0,1116.1 716.5,1116.1 718.0,1116.1 719.5,1116.1 720.9,1116.1 722.4,1116.1 723.9,1116.1 725.3,1116.1 726.8,1116.1 728.3,1116.1 729.7,1116.1 731.2,1116.1 732.7,1116.1 734.1,1116.1 735.6,1116.1 737.1,1116.1 738.5,1116.1 740.0,1116.1 741.5,1116.1 742.9,1116.1 744.4,1116.1 744.4,1145.7 742.9,1145.7 741.5,1145.7 740.0,1145.7 738.5,1145.7 737.1,1145.7 735.6,1145.7 734.1,1145.7 732.7,1145.7 731.2,1145.7 729.7,1145.7 728.3,1145.7 726.8,1145.7 725.3,1145.7 723.9,1145.7 722.4,1145.7 720.9,1145.7 719.5,1145.7 718.0,1145.7 716.5,1145.7 715.0,1145.7 713.6,1145.7 712.1,1145.7 710.6,1145.7 709.2,1145.7 707.7,1145.7 706.2,1145.7 704.8,1145.7 703.3,1145.7 701.8,1145.7 700.4,1145.7 698.9,1145.7 697.4,1145.7 696.0,1145.7 694.5,1145.7 693.0,1145.7 691.6,1145.7 690.1,1145.7 688.6,1145.7 687.2,1145.7 685.7,1145.7 684.2,1145.7 682.8,1145.7 681.3,1145.7 679.8,1145.7 678.4,1145.7 676.9,1145.7 675.4,1145.7 674.0,1145.7 672.5,1145.7 671.0,1145.7 669.6,1145.7 668.1,1145.7 666.6,1145.7 665.2,1145.7 663.7,1145.7 662.2,1145.7 660.7,1145.7 659.3,1145.7 657.8,1135.9 656.3,1135.9 654.9,1145.7 653.4,1135.9 651.9,1135.9 650.5,1135.9 649.0,1135.9 647.5,1135.9 646.1,1135.9 644.6,1135.9 643.1,1135.9 641.7,1135.9 640.2,1135.9 638.7,1135.9 637.3,1135.9 635.8,1135.9 634.3,1135.9 632.9,1135.9 631.4,1135.9 629.9,1135.9 628.5,1135.9 627.0,1135.9 625.5,1135.9 624.1,1135.9 622.6,1135.9 621.1,1135.9 619.7,1135.9 618.2,1135.9 616.7,1135.9 615.3,1135.9 613.8,1135.9 612.3,1135.9 610.9,1135.9 609.4,1135.9 607.9,1135.9 606.4,1135.9 605.0,1135.9 603.5,1135.9 602.0,1135.9 600.6,1135.9 599.1,1135.9 597.6,1135.9 596.2,1135.9 594.7,1135.9 593.2,1135.9 591.8,1135.9 590.3,1135.9 588.8,1135.9 587.4,1135.9 585.9,1135.9 584.4,1135.9 583.0,1135.9 581.5,1135.9 580.0,1135.9 578.6,1135.9 577.1,1135.9 575.6,1135.9 574.2,1135.9 572.7,1135.9 571.2,1135.9 569.8,1135.9 568.3,1135.9 566.8,1135.9 565.4,1126.0 563.9,1126.0 562.4,1126.0 561.0,1126.0 559.5,1126.0 558.0,1126.0 556.5,1126.0 555.1,1126.0 553.6,1126.0 552.1,1126.0 550.7,1126.0 549.2,1126.0 547.7,1126.0 546.3,1126.0 544.8,1126.0 543.3,1126.0 541.9,1126.0 540.4,1116.1 538.9,1116.1 537.5,1126.0 536.0,1116.1 534.5,1116.1 533.1,1116.1 531.6,1116.1 530.1,1116.1 528.7,1116.1 527.2,1116.1 525.7,1116.1 524.3,1116.1 522.8,1116.1 521.3,1106.2 519.9,1106.2 518.4,1106.2 516.9,1106.2 515.5,1106.2 514.0,1106.2 512.5,1106.2 511.1,1106.2 509.6,1106.2 508.1,1106.2 506.7,1106.2 505.2,1096.4 503.7,1106.2 502.2,1106.2 500.8,1096.4 499.3,1096.4 497.8,1096.4 496.4,1096.4 494.9,1096.4 493.4,1096.4 492.0,1096.4 490.5,1096.4 489.0,1096.4 487.6,1096.4 486.1,1096.4 484.6,1096.4 483.2,1096.4 481.7,1086.5 480.2,1086.5 478.8,1086.5 477.3,1086.5 475.8,1086.5 474.4,1086.5 472.9,1086.5 471.4,1096.4 470.0,1086.5 468.5,1086.5 467.0,1086.5 465.6,1096.4 464.1,1086.5 462.6,1086.5 461.2,1086.5 459.7,1096.4 458.2,1096.4 456.8,1096.4 455.3,1096.4 453.8,1096.4 452.3,1096.4 450.9,1096.4 449.4,1096.4 447.9,1096.4 446.5,1096.4 445.0,1096.4 443.5,1106.2 442.1,1106.2 440.6,1106.2 439.1,1106.2 437.7,1106.2 436.2,1106.2 434.7,1106.2 433.3,1106.2 431.8,1106.2 430.3,1106.2 428.9,1116.1 427.4,1116.1 425.9,1116.1 424.5,1116.1 423.0,1116.1 421.5,1116.1 420.1,1116.1 418.6,1116.1 417.1,1116.1 415.7,1116.1 414.2,1116.1 412.7,1116.1 411.3,1116.1 409.8,1126.0 408.3,1126.0 406.9,1126.0 405.4,1126.0 403.9,1126.0 402.5,1126.0 401.0,1126.0 399.5,1126.0 398.0,1135.9 396.6,1135.9 395.1,1135.9 393.6,1135.9 392.2,1135.9 390.7,1135.9 389.2,1135.9 387.8,1135.9 386.3,1135.9 384.8,1135.9 383.4,1135.9 381.9,1135.9 380.4,1135.9 379.0,1135.9 377.5,1135.9 376.0,1135.9 374.6,1135.9 373.1,1135.9 371.6,1135.9 370.2,1135.9 368.7,1135.9 367.2,1135.9 365.8,1135.9 364.3,1135.9 362.8,1135.9 361.4,1135.9 359.9,1135.9 358.4,1135.9 357.0,1135.9 355.5,1135.9 354.0,1135.9 352.6,1135.9 351.1,1135.9 349.6,1135.9 348.1,1135.9 346.7,1135.9 345.2,1135.9 343.7,1135.9 342.3,1135.9 340.8,1135.9 339.3,1135.9 337.9,1135.9 336.4,1135.9 334.9,1135.9 333.5,1135.9 332.0,1135.9 330.5,1126.0 329.1,1135.9 327.6,1126.0 326.1,1135.9 324.7,1126.0 323.2,1126.0 321.7,1135.9 320.3,1126.0 318.8,1126.0 317.3,1126.0 315.9,1126.0 314.4,1126.0 312.9,1126.0 311.5,1126.0 310.0,1126.0 308.5,1126.0 307.1,1126.0 305.6,1126.0 304.1,1126.0 302.7,1126.0 301.2,1126.0 299.7,1126.0 298.3,1126.0 296.8,1126.0 295.3,1126.0 293.8,1126.0 292.4,1126.0 290.9,1126.0 289.4,1126.0 288.0,1126.0 286.5,1126.0 285.0,1126.0 283.6,1126.0 282.1,1126.0 280.6,1126.0 279.2,1126.0 277.7,1126.0 276.2,1126.0 274.8,1126.0 273.3,1126.0 271.8,1126.0 270.4,1126.0 268.9,1135.9 267.4,1135.9 266.0,1135.9 264.5,1135.9 263.0,1135.9 261.6,1135.9 260.1,1135.9 258.6,1135.9 257.2,1145.7 255.7,1145.7 254.2,1145.7 252.8,1145.7 251.3,1145.7 249.8,1145.7 248.4,1145.7 246.9,1145.7 245.4,1145.7 243.9,1145.7 242.5,1145.7 241.0,1145.7 239.5,1145.7 238.1,1145.7 236.6,1145.7 235.1,1145.7 233.7,1145.7 232.2,1145.7 230.7,1145.7 229.3,1145.7 227.8,1145.7 226.3,1145.7 224.9,1145.7 223.4,1145.7 221.9,1145.7 220.5,1145.7 219.0,1145.7 217.5,1145.7 216.1,1145.7 214.6,1145.7 213.1,1145.7 211.7,1145.7 210.2,1145.7 208.7,1145.7 207.3,1145.7 205.8,1145.7 204.3,1145.7 202.9,1145.7 201.4,1145.7 199.9,1145.7 198.5,1145.7 197.0,1145.7 195.5,1145.7 194.1,1145.7 192.6,1145.7 191.1,1145.7 189.6,1145.7 188.2,1145.7 186.7,1145.7 185.2,1145.7 183.8,1145.7 182.3,1145.7 180.8,1145.7 179.4,1145.7 177.9,1145.7 176.4,1145.7 175.0,1145.7 173.5,1145.7 172.0,1145.7 170.6,1145.7 169.1,1145.7 167.6,1145.7 166.2,1145.7 164.7,1145.7 163.2,1145.7 161.8,1145.7 160.3,1145.7 158.8,1145.7 157.4,1145.7 155.9,1145.7 154.4,1145.7 153.0,1145.7 151.5,1145.7 150.0,1145.7 148.6,1145.7 147.1,1145.7 145.6,1145.7 144.2,1145.7 142.7,1145.7 141.2,1145.7 139.8,1145.7 138.3,1145.7 136.8,1145.7 135.3,1145.7 133.9,1145.7 132.4,1145.7 130.9,1145.7 129.5,1145.7 128.0,1145.7 126.5,1145.7 125.1,1145.7 123.6,1145.7 122.1,1145.7 120.7,1145.7 119.2,1145.7 117.7,1145.7 116.3,1145.7 114.8,1145.7 113.3,1145.7 111.9,1145.7 110.4,1145.7 108.9,1145.7 107.5,1145.7 106.0,1145.7 104.5,1145.7 103.1,1145.7 101.6,1145.7 100.1,1145.7 98.7,1145.7 97.2,1145.7 95.7,1145.7 94.3,1145.7 92.8,1145.7 91.3,1145.7 89.9,1145.7 88.4,1145.7 86.9,1145.7 85.4,1145.7 84.0,1145.7 82.5,1145.7 81.0,1145.7 79.6,1145.7 78.1,1145.7 76.6,1145.7 75.2,1145.7 73.7,1145.7 72.2,1145.7 70.8,1145.7 69.3,1145.7 67.8,1145.7 66.4,1145.7 64.9,1145.7 63.4,1145.7 62.0,1145.7 60.5,1145.7"/>
<polygon points="745.9,1056.8 747.3,1047.0 748.8,1047.0 750.3,1047.0 751.7,1037.1 753.2,1027.2 754.7,1027.2 756.1,1007.5 757.6,1027.2 759.1,997.6 760.5,1007.5 762.0,977.8 763.5,977.8 764.9,958.1 766.4,968.0 767.9,958.1 769.4,948.2 770.8,938.3 772.3,938.3 773.8,898.8 775.2,888.9 776.7,888.9 778.2,898.8 779.6,869.2 781.1,859.3 782.6,809.9 784.0,800.0 785.5,780.3 785.5,1145.7 784.0,1145.7 782.6,1145.7 781.1,1145.7 779.6,1145.7 778.2,1145.7 776.7,1145.7 775.2,1145.7 773.8,1145.7 772.3,1145.7 770.8,1145.7 769.4,1145.7 767.9,1145.7 766.4,1145.7 764.9,1145.7 763.5,1145.7 762.0,1145.7 760.5,1145.7 759.1,1145.7 757.6,1145.7 756.1,1145.7 754.7,1145.7 753.2,1145.7 751.7,1145.7 750.3,1145.7 748.8,1145.7 747.3,1145.7 745.9,1145.7"/>
<polygon points="745.9,1106.2 747.3,1106.2 748.8,1096.4 750.3,1086.5 751.7,1076.6 753.2,1076.6 754.7,1076.6 756.1,1076.6 757.6,1066.7 759.1,1076.6 760.5,1076.6 762.0,1066.7 763.5,1066.7 764.9,1066.7 766.4,1056.8 767.9,1047.0 769.4,1066.7 770.8,1047.0 772.3,1047.0 773.8,1037.1 775.2,1027.2 776.7,1027.2 778.2,1007.5 779.6,1017.3 781.1,1007.5 782.6,997.6 784.0,987.7 785.5,987.7 785.5,1145.7 784.0,1145.7 782.6,1145.7 781.1,1145.7 779.6,1145.7 778.2,1145.7 776.7,1145.7 775.2,1145.7 773.8,1145.7 772.3,1145.7 770.8,1145.7 769.4,1145.7 767.9,1145.7 766.4,1145.7 764.9,1145.7 763.5,1145.7 762.0,1145.7 760.5,1145.7 759.1,1145.7 757.6,1145.7 756.1,1145.7 754.7,1145.7 753.2,1145.7 751.7,1145.7 750.3,1145.7 748.8,1145.7 747.3,1145.7 745.9,1145.7"/>
<polygon points="745.9,1116.1 747.3,1116.1 748.8,1116.1 750.3,1116.1 751.7,1116.1 753.2,1116.1 754.7,1116.1 756.1,1106.2 757.6,1106.2 759.1,1106.2 760.5,1106.2 762.0,1096.4 763.5,1106.2 764.9,1096.4 766.4,1096.4 767.9,1096.4 769.4,1096.4 770.8,1096.4 772.3,1096.4 773.8,1086.5 775.2,1096.4 776.7,1086.5 778.2,1086.5 779.6,1086.5 781.1,1086.5 782.6,1086.5 784.0,1076.6 785.5,1086.5 785.5,1145.7 784.0,1145.7 782.6,1145.7 781.1,1145.7 779.6,1145.7 778.2,1145.7 776.7,1145.7 775.2,1145.7 773.8,1145.7 772.3,1145.7 770.8,1145.7 769.4,1145.7 767.9,1145.7 766.4,1145.7 764.9,1145.7 763.5,1145.7 762.0,1145.7 760.5,1145.7 759.1,1145.7 757.6,1145.7 756.1,1145.7 754.7,1145.7 753.2,1145.7 751.7,1145.7 750.3,1145.7 748.8,1145.7 747.3,1145.7 745.9,1145.7"/>
</g>
<line x1="60.5" x2="785.5" y1="1145.50" y2="1145.50" stroke="#b0b0b0" stroke-width="1"/>
<line x1="60.5" x2="785.5" y1="1046.50" y2="1046.50" stroke="#b0b0b0" stroke-width="1"/>
<line x1="60.5" x2="785.5" y1="948.50" y2="948.50" stroke="#b0b0b0" stroke-width="1"/>
<line x1="60.5" x2="785.5" y1="849.50" y2="849.50" stroke="#b0b0b0" stroke-width="1"/>
<line x1="60.5" x2="785.5" y1="750.50" y2="750.50" stroke="#b0b0b0" stroke-width="1"/>
<line x1="60.5" x2="785.5" y1="651.50" y2="651.50" stroke="#b0b0b0" stroke-width="1"/>
<g clip-path="url(#cb)">
<polyline points="60.5,1145.7 62.0,1145.7 63.4,1145.7 64.9,1145.7 66.4,1145.7 67.8,1145.7 69.3,1145.7 70.8,1145.7 72.2,1145.7 73.7,1145.7 75.2,1145.7 76.6,1145.7 78.1,1145.7 79.6,1145.7 81.0,1145.7 82.5,1145.7 84.0,1145.7 85.4,1145.7 86.9,1145.7 88.4,1145.7 89.9,1145.7 91.3,1145.7 92.8,1145.7 94.3,1145.7 95.7,1145.7 97.2,1145.7 98.7,1145.7 100.1,1135.9 101.6,1135.9 103.1,1135.9 104.5,1135.9 106.0,1135.9 107.5,1135.9 108.9,1135.9 110.4,1135.9 111.9,1135.9 113.3,1135.9 114.8,1135.9 116.3,1135.9 117.7,1135.9 119.2,1135.9 120.7,1135.9 122.1,1135.9 123.6,1135.9 125.1,1135.9 126.5,1135.9 128.0,1135.9 129.5,1135.9 130.9,1135.9 132.4,1135.9 133.9,1135.9 135.3,1135.9 136.8,1135.9 138.3,1135.9 139.8,1135.9 141.2,1135.9 142.7,1135.9 144.2,1135.9 145.6,1135.9 147.1,1135.9 148.6,1135.9 150.0,1135.9 151.5,1135.9 153.0,1135.9 154.4,1135.9 155.9,1135.9 157.4,1145.7 158.8,1135.9 160.3,1145.7 161.8,1145.7 163.2,1135.9 164.7,1145.7 166.2,1145.7 167.6,1145.7 169.1,1145.7 170.6,1145.7 172.0,1145.7 173.5,1145.7 175.0,1145.7 176.4,1145.7 177.9,1145.7 179.4,1145.7 180.8,1145.7 182.3,1145.7 183.8,1145.7 185.2,1145.7 186.7,1145.7 188.2,1145.7 189.6,1145.7 191.1,1145.7 192.6,1145.7 194.1,1145.7 195.5,1145.7 197.0,1145.7 198.5,1145.7 199.9,1145.7 201.4,1145.7 202.9,1145.7 204.3,1145.7 205.8,1145.7 207.3,1145.7 208.7,1145.7 210.2,1145.7 211.7,1145.7 213.1,1145.7 214.6,1145.7 216.1,1145.7 217.5,1145.7 219.0,1145.7 220.5,1145.7 221.9,1145.7 223.4,1145.7 224.9,1145.7 226.3,1145.7 227.8,1145.7 229.3,1145.7 230.7,1145.7 232.2,1145.7 233.7,1145.7 235.1,1145.7 236.6,1145.7 238.1,1145.7 239.5,1145.7 241.0,1145.7 242.5,1135.9 243.9,1135.9 245.4,1135.9 246.9,1135.9 248.4,1135.9 249.8,1135.9 251.3,1135.9 252.8,1135.9 254.2,1135.9 255.7,1126.0 257.2,1126.0 258.6,1126.0 260.1,1126.0 261.6,1126.0 263.0,1116.1 264.5,1116.1 266.0,1116.1 267.4,1116.1 268.9,1116.1 270.4,1106.2 271.8,1106.2 273.3,1106.2 274.8,1106.2 276.2,1106.2 277.7,1106.2 279.2,1106.2 280.6,1096.4 282.1,1106.2 283.6,1106.2 285.0,1106.2 286.5,1096.4 288.0,1096.4 289.4,1096.4 290.9,1096.4 292.4,1096.4 293.8,1096.4 295.3,1096.4 296.8,1096.4 298.3,1096.4 299.7,1096.4 301.2,1096.4 302.7,1096.4 304.1,1106.2 305.6,1096.4 307.1,1096.4 308.5,1106.2 310.0,1106.2 311.5,1106.2 312.9,1106.2 314.4,1106.2 315.9,1106.2 317.3,1106.2 318.8,1106.2 320.3,1106.2 321.7,1106.2 323.2,1106.2 324.7,1106.2 326.1,1106.2 327.6,1106.2 329.1,1106.2 330.5,1106.2 332.0,1116.1 333.5,1116.1 334.9,1116.1 336.4,1116.1 337.9,1116.1 339.3,1116.1 340.8,1116.1 342.3,1116.1 343.7,1116.1 345.2,1116.1 346.7,1116.1 348.1,1126.0 349.6,1126.0 351.1,1116.1 352.6,1116.1 354.0,1116.1 355.5,1116.1 357.0,1116.1 358.4,1116.1 359.9,1116.1 361.4,1116.1 362.8,1116.1 364.3,1116.1 365.8,1116.1 367.2,1116.1 368.7,1116.1 370.2,1116.1 371.6,1116.1 373.1,1116.1 374.6,1116.1 376.0,1116.1 377.5,1116.1 379.0,1116.1 380.4,1116.1 381.9,1116.1 383.4,1116.1 384.8,1116.1 386.3,1116.1 387.8,1116.1 389.2,1116.1 390.7,1116.1 392.2,1116.1 393.6,1116.1 395.1,1116.1 396.6,1116.1 398.0,1116.1 399.5,1106.2 401.0,1106.2 402.5,1106.2 403.9,1106.2 405.4,1096.4 406.9,1096.4 408.3,1096.4 409.8,1096.4 411.3,1086.5 412.7,1086.5 414.2,1086.5 415.7,1076.6 417.1,1076.6 418.6,1076.6 420.1,1076.6 421.5,1076.6 423.0,1076.6 424.5,1076.6 425.9,1066.7 427.4,1066.7 428.9,1066.7 430.3,1066.7 431.8,1056.8 433.3,1066.7 434.7,1056.8 436.2,1056.8 437.7,1056.8 439.1,1056.8 440.6,1047.0 442.1,1047.0 443.5,1037.1 445.0,1047.0 446.5,1037.1 447.9,1037.1 449.4,1027.2 450.9,1027.2 452.3,1037.1 453.8,1037.1 455.3,1027.2 456.8,1027.2 458.2,1027.2 459.7,1027.2 461.2,1027.2 462.6,1027.2 464.1,1027.2 465.6,1027.2 467.0,1027.2 468.5,1027.2 470.0,1027.2 471.4,1017.3 472.9,1027.2 474.4,1017.3 475.8,1027.2 477.3,1017.3 478.8,1017.3 480.2,1017.3 481.7,1027.2 483.2,1037.1 484.6,1037.1 486.1,1037.1 487.6,1027.2 489.0,1037.1 490.5,1037.1 492.0,1037.1 493.4,1037.1 494.9,1047.0 496.4,1037.1 497.8,1047.0 499.3,1037.1 500.8,1047.0 502.2,1047.0 503.7,1047.0 505.2,1047.0 506.7,1056.8 508.1,1056.8 509.6,1056.8 511.1,1056.8 512.5,1056.8 514.0,1056.8 515.5,1056.8 516.9,1056.8 518.4,1066.7 519.9,1066.7 521.3,1066.7 522.8,1066.7 524.3,1066.7 525.7,1076.6 527.2,1066.7 528.7,1076.6 530.1,1076.6 531.6,1086.5 533.1,1086.5 534.5,1086.5 536.0,1086.5 537.5,1086.5 538.9,1086.5 540.4,1086.5 541.9,1096.4 543.3,1086.5 544.8,1096.4 546.3,1096.4 547.7,1096.4 549.2,1096.4 550.7,1096.4 552.1,1096.4 553.6,1096.4 555.1,1106.2 556.5,1106.2 558.0,1106.2 559.5,1106.2 561.0,1106.2 562.4,1106.2 563.9,1106.2 565.4,1106.2 566.8,1106.2 568.3,1106.2 569.8,1106.2 571.2,1106.2 572.7,1106.2 574.2,1116.1 575.6,1116.1 577.1,1116.1 578.6,1116.1 580.0,1116.1 581.5,1116.1 583.0,1116.1 584.4,1116.1 585.9,1116.1 587.4,1116.1 588.8,1116.1 590.3,1116.1 591.8,1116.1 593.2,1116.1 594.7,1116.1 596.2,1116.1 597.6,1116.1 599.1,1116.1 600.6,1116.1 602.0,1116.1 603.5,1126.0 605.0,1126.0 606.4,1126.0 607.9,1126.0 609.4,1126.0 610.9,1126.0 612.3,1126.0 613.8,1126.0 615.3,1126.0 616.7,1126.0 618.2,1126.0 619.7,1126.0 621.1,1126.0 622.6,1126.0 624.1,1126.0 625.5,1126.0 627.0,1126.0 628.5,1126.0 629.9,1126.0 631.4,1126.0 632.9,1126.0 634.3,1126.0 635.8,1126.0 637.3,1126.0 638.7,1126.0 640.2,1126.0 641.7,1126.0 643.1,1126.0 644.6,1126.0 646.1,1126.0 647.5,1126.0 649.0,1126.0 650.5,1126.0 651.9,1126.0 653.4,1126.0 654.9,1126.0 656.3,1126.0 657.8,1126.0 659.3,1126.0 660.7,1126.0 662.2,1126.0 663.7,1126.0 665.2,1126.0 666.6,1126.0 668.1,1126.0 669.6,1126.0 671.0,1126.0 672.5,1135.9 674.0,1135.9 675.4,1135.9 676.9,1135.9 678.4,1135.9 679.8,1135.9 681.3,1135.9 682.8,1135.9 684.2,1135.9 685.7,1135.9 687.2,1135.9 688.6,1135.9 690.1,1135.9 691.6,1135.9 693.0,1135.9 694.5,1135.9 696.0,1135.9 697.4,1135.9 698.9,1135.9 700.4,1135.9 701.8,1135.9 703.3,1135.9 704.8,1135.9 706.2,1135.9 707.7,1135.9 709.2,1135.9 710.6,1135.9 712.1,1135.9 713.6,1135.9 715.0,1135.9 716.5,1135.9 718.0,1135.9 719.5,1135.9 720.9,1135.9 722.4,1135.9 723.9,1135.9 725.3,1135.9 726.8,1135.9 728.3,1135.9 729.7,1135.9 731.2,1135.9 732.7,1135.9 734.1,1135.9 735.6,1135.9 737.1,1135.9 738.5,1135.9 740.0,1135.9 741.5,1135.9 742.9,1135.9 744.4,1135.9 745.9,1135.9 747.3,1135.9 748.8,1126.0 750.3,1126.0 751.7,1126.0 753.2,1126.0 754.7,1126.0 756.1,1126.0 757.6,1126.0 759.1,1126.0 760.5,1126.0 762.0,1126.0 763.5,1126.0 764.9,1126.0 766.4,1126.0 767.9,1126.0 769.4,1126.0 770.8,1126.0 772.3,1126.0 773.8,1126.0 775.2,1126.0 776.7,1126.0 778.2,1126.0 779.6,1126.0 781.1,1126.0 782.6,1126.0 784.0,1126.0 785.5,1126.0" fill="none" stroke="#1f77b4" stroke-width="2.08" stroke-linejoin="round"/>
<g fill="#ff7f0e"><circle cx="114.5" cy="1086.5" r="4.86"/><circle cx="120.5" cy="1086.5" r="4.86"/><circle cx="123.5" cy="1086.5" r="4.86"/><circle cx="141.5" cy="1106.5" r="4.86"/><circle cx="92.5" cy="1116.5" r="4.86"/><circle cx="110.5" cy="1116.5" r="4.86"/><circle cx="113.5" cy="1116.5" r="4.86"/><circle cx="130.5" cy="1116.5" r="4.86"/><circle cx="133.5" cy="1116.5" r="4.86"/><circle cx="145.5" cy="1116.5" r="4.86"/><circle cx="160.5" cy="1116.5" r="4.86"/><circle cx="164.5" cy="1116.5" r="4.86"/><circle cx="173.5" cy="1116.5" r="4.86"/><circle cx="100.5" cy="1125.5" r="4.86"/><circle cx="111.5" cy="1125.5" r="4.86"/><circle cx="115.5" cy="1125.5" r="4.86"/><circle cx="119.5" cy="1125.5" r="4.86"/><circle cx="122.5" cy="1125.5" r="4.86"/><circle cx="126.5" cy="1125.5" r="4.86"/><circle cx="136.5" cy="1125.5" r="4.86"/><circle cx="176.5" cy="1125.5" r="4.86"/><circle cx="183.5" cy="1125.5" r="4.86"/><circle cx="203.5" cy="1125.5" r="4.86"/><circle cx="207.5" cy="1125.5" r="4.86"/><circle cx="95.5" cy="1135.5" r="4.86"/><circle cx="98.5" cy="1135.5" r="4.86"/><circle cx="102.5" cy="1135.5" r="4.86"/><circle cx="105.5" cy="1135.5" r="4.86"/><circle cx="116.5" cy="1135.5" r="4.86"/><circle cx="127.5" cy="1135.5" r="4.86"/><circle cx="129.5" cy="1135.5" r="4.86"/><circle cx="147.5" cy="1135.5" r="4.86"/><circle cx="151.5" cy="1135.5" r="4.86"/><circle cx="154.5" cy="1135.5" r="4.86"/><circle cx="167.5" cy="1135.5" r="4.86"/><circle cx="170.5" cy="1135.5" r="4.86"/><circle cx="185.5" cy="1135.5" r="4.86"/><circle cx="192.5" cy="1135.5" r="4.86"/><circle cx="215.5" cy="1135.5" r="4.86"/><circle cx="337.5" cy="967.5" r="4.86"/><circle cx="299.5" cy="1007.5" r="4.86"/><circle cx="276.5" cy="1017.5" r="4.86"/><circle cx="315.5" cy="1027.5" r="4.86"/><circle cx="279.5" cy="1037.5" r="4.86"/><circle cx="317.5" cy="1037.5" r="4.86"/><circle cx="285.5" cy="1046.5" r="4.86"/><circle cx="320.5" cy="1046.5" r="4.86"/><circle cx="330.5" cy="1046.5" r="4.86"/><circle cx="265.5" cy="1056.5" r="4.86"/><circle cx="280.5" cy="1056.5" r="4.86"/><circle cx="305.5" cy="1056.5" r="4.86"/><circle cx="309.5" cy="1056.5" r="4.86"/><circle cx="274.5" cy="1066.5" r="4.86"/><circle cx="378.5" cy="1066.5" r="4.86"/><circle cx="255.5" cy="1076.5" r="4.86"/><circle cx="286.5" cy="1076.5" r="4.86"/><circle cx="295.5" cy="1076.5" r="4.86"/><circle cx="307.5" cy="1076.5" r="4.86"/><circle cx="310.5" cy="1076.5" r="4.86"/><circle cx="314.5" cy="1076.5" r="4.86"/><circle cx="268.5" cy="1086.5" r="4.86"/><circle cx="273.5" cy="1086.5" r="4.86"/><circle cx="287.5" cy="1086.5" r="4.86"/><circle cx="290.5" cy="1086.5" r="4.86"/><circle cx="318.5" cy="1086.5" r="4.86"/><circle cx="326.5" cy="1086.5" r="4.86"/><circle cx="348.5" cy="1086.5" r="4.86"/><circle cx="373.5" cy="1086.5" r="4.86"/><circle cx="298.5" cy="1096.5" r="4.86"/><circle cx="321.5" cy="1096.5" r="4.86"/><circle cx="324.5" cy="1096.5" r="4.86"/><circle cx="327.5" cy="1096.5" r="4.86"/><circle cx="340.5" cy="1096.5" r="4.86"/><circle cx="349.5" cy="1096.5" r="4.86"/><circle cx="369.5" cy="1096.5" r="4.86"/><circle cx="377.5" cy="1096.5" r="4.86"/><circle cx="245.5" cy="1106.5" r="4.86"/><circle cx="257.5" cy="1106.5" r="4.86"/><circle cx="261.5" cy="1106.5" r="4.86"/><circle cx="264.5" cy="1106.5" r="4.86"/><circle cx="277.5" cy="1106.5" r="4.86"/><circle cx="301.5" cy="1106.5" r="4.86"/><circle cx="304.5" cy="1106.5" r="4.86"/><circle cx="336.5" cy="1106.5" r="4.86"/><circle cx="345.5" cy="1106.5" r="4.86"/><circle cx="349.5" cy="1106.5" r="4.86"/><circle cx="353.5" cy="1106.5" r="4.86"/><circle cx="357.5" cy="1106.5" r="4.86"/><circle cx="367.5" cy="1106.5" r="4.86"/><circle cx="263.5" cy="1116.5" r="4.86"/><circle cx="267.5" cy="1116.5" r="4.86"/><circle cx="283.5" cy="1116.5" r="4.86"/><circle cx="342.5" cy="1116.5" r="4.86"/><circle cx="352.5" cy="1116.5" r="4.86"/><circle cx="356.5" cy="1116.5" r="4.86"/><circle cx="359.5" cy="1116.5" r="4.86"/><circle cx="370.5" cy="1116.5" r="4.86"/><circle cx="379.5" cy="1116.5" r="4.86"/><circle cx="246.5" cy="1125.5" r="4.86"/><circle cx="270.5" cy="1125.5" r="4.86"/><circle cx="293.5" cy="1125.5" r="4.86"/><circle cx="324.5" cy="1125.5" r="4.86"/><circle cx="328.5" cy="1125.5" r="4.86"/><circle cx="331.5" cy="1125.5" r="4.86"/><circle cx="354.5" cy="1125.5" r="4.86"/><circle cx="359.5" cy="1125.5" r="4.86"/><circle cx="363.5" cy="1125.5" r="4.86"/><circle cx="370.5" cy="1125.5" r="4.86"/><circle cx="376.5" cy="1125.5" r="4.86"/><circle cx="226.5" cy="1135.5" r="4.86"/><circle cx="230.5" cy="1135.5" r="4.86"/><circle cx="233.5" cy="1135.5" r="4.86"/><circle cx="237.5" cy="1135.5" r="4.86"/><circle cx="241.5" cy="1135.5" r="4.86"/><circle cx="244.5" cy="1135.5" r="4.86"/><circle cx="248.5" cy="1135.5" r="4.86"/><circle cx="252.5" cy="1135.5" r="4.86"/><circle cx="255.5" cy="1135.5" r="4.86"/><circle cx="259.5" cy="1135.5" r="4.86"/><circle cx="312.5" cy="1135.5" r="4.86"/><circle cx="323.5" cy="1135.5" r="4.86"/><circle cx="333.5" cy="1135.5" r="4.86"/><circle cx="361.5" cy="1135.5" r="4.86"/><circle cx="442.5" cy="918.5" r="4.86"/><circle cx="462.5" cy="918.5" r="4.86"/><circle cx="499.5" cy="918.5" r="4.86"/><circle cx="450.5" cy="938.5" r="4.86"/><circle cx="489.5" cy="938.5" r="4.86"/><circle cx="468.5" cy="948.5" r="4.86"/><circle cx="480.5" cy="948.5" r="4.86"/><circle cx="430.5" cy="958.5" r="4.86"/><circle cx="469.5" cy="958.5" r="4.86"/><circle cx="478.5" cy="958.5" r="4.86"/><circle cx="534.5" cy="958.5" r="4.86"/><circle cx="464.5" cy="967.5" r="4.86"/><circle cx="475.5" cy="967.5" r="4.86"/><circle cx="420.5" cy="977.5" r="4.86"/><circle cx="447.5" cy="977.5" r="4.86"/><circle cx="481.5" cy="977.5" r="4.86"/><circle cx="512.5" cy="977.5" r="4.86"/><circle cx="411.5" cy="987.5" r="4.86"/><circle cx="428.5" cy="987.5" r="4.86"/><circle cx="431.5" cy="987.5" r="4.86"/><circle cx="484.5" cy="987.5" r="4.86"/><circle cx="500.5" cy="987.5" r="4.86"/><circle cx="418.5" cy="997.5" r="4.86"/><circle cx="474.5" cy="997.5" r="4.86"/><circle cx="409.5" cy="1007.5" r="4.86"/><circle cx="440.5" cy="1007.5" r="4.86"/><circle cx="453.5" cy="1007.5" r="4.86"/><circle cx="535.5" cy="1017.5" r="4.86"/><circle cx="427.5" cy="1027.5" r="4.86"/><circle cx="490.5" cy="1027.5" r="4.86"/><circle cx="506.5" cy="1027.5" r="4.86"/><circle cx="511.5" cy="1027.5" r="4.86"/><circle cx="521.5" cy="1027.5" r="4.86"/><circle cx="526.5" cy="1027.5" r="4.86"/><circle cx="540.5" cy="1027.5" r="4.86"/><circle cx="399.5" cy="1037.5" r="4.86"/><circle cx="412.5" cy="1037.5" r="4.86"/><circle cx="491.5" cy="1037.5" r="4.86"/><circle cx="509.5" cy="1037.5" r="4.86"/><circle cx="403.5" cy="1046.5" r="4.86"/><circle cx="443.5" cy="1046.5" r="4.86"/><circle cx="502.5" cy="1046.5" r="4.86"/><circle cx="519.5" cy="1046.5" r="4.86"/><circle cx="402.5" cy="1056.5" r="4.86"/><circle cx="458.5" cy="1056.5" r="4.86"/><circle cx="422.5" cy="1066.5" r="4.86"/><circle cx="449.5" cy="1066.5" r="4.86"/><circle cx="522.5" cy="1066.5" r="4.86"/><circle cx="400.5" cy="1076.5" r="4.86"/><circle cx="403.5" cy="1076.5" r="4.86"/><circle cx="406.5" cy="1076.5" r="4.86"/><circle cx="421.5" cy="1076.5" r="4.86"/><circle cx="434.5" cy="1076.5" r="4.86"/><circle cx="456.5" cy="1076.5" r="4.86"/><circle cx="539.5" cy="1076.5" r="4.86"/><circle cx="393.5" cy="1086.5" r="4.86"/><circle cx="477.5" cy="1086.5" r="4.86"/><circle cx="516.5" cy="1086.5" r="4.86"/><circle cx="518.5" cy="1086.5" r="4.86"/><circle cx="408.5" cy="1096.5" r="4.86"/><circle cx="487.5" cy="1096.5" r="4.86"/><circle cx="496.5" cy="1096.5" r="4.86"/><circle cx="516.5" cy="1096.5" r="4.86"/><circle cx="389.5" cy="1106.5" r="4.86"/><circle cx="398.5" cy="1106.5" r="4.86"/><circle cx="424.5" cy="1106.5" r="4.86"/><circle cx="437.5" cy="1106.5" r="4.86"/><circle cx="455.5" cy="1106.5" r="4.86"/><circle cx="381.5" cy="1116.5" r="4.86"/><circle cx="384.5" cy="1116.5" r="4.86"/><circle cx="387.5" cy="1116.5" r="4.86"/><circle cx="396.5" cy="1116.5" r="4.86"/><circle cx="414.5" cy="1116.5" r="4.86"/><circle cx="425.5" cy="1116.5" r="4.86"/><circle cx="429.5" cy="1116.5" r="4.86"/><circle cx="433.5" cy="1116.5" r="4.86"/><circle cx="467.5" cy="1116.5" r="4.86"/><circle cx="387.5" cy="1125.5" r="4.86"/><circle cx="417.5" cy="1125.5" r="4.86"/><circle cx="445.5" cy="1125.5" r="4.86"/><circle cx="527.5" cy="1125.5" r="4.86"/><circle cx="384.5" cy="1135.5" r="4.86"/><circle cx="387.5" cy="1135.5" r="4.86"/><circle cx="390.5" cy="1135.5" r="4.86"/><circle cx="405.5" cy="1135.5" r="4.86"/><circle cx="415.5" cy="1135.5" r="4.86"/><circle cx="538.5" cy="1135.5" r="4.86"/><circle cx="439.5" cy="800.5" r="4.86"/><circle cx="472.5" cy="819.5" r="4.86"/><circle cx="503.5" cy="819.5" r="4.86"/><circle cx="459.5" cy="839.5" r="4.86"/><circle cx="461.5" cy="839.5" r="4.86"/><circle cx="531.5" cy="849.5" r="4.86"/><circle cx="471.5" cy="859.5" r="4.86"/><circle cx="513.5" cy="859.5" r="4.86"/><circle cx="483.5" cy="869.5" r="4.86"/><circle cx="524.5" cy="879.5" r="4.86"/><circle cx="543.5" cy="888.5" r="4.86"/><circle cx="493.5" cy="898.5" r="4.86"/><circle cx="582.5" cy="1007.5" r="4.86"/><circle cx="613.5" cy="1017.5" r="4.86"/><circle cx="556.5" cy="1037.5" r="4.86"/><circle cx="560.5" cy="1037.5" r="4.86"/><circle cx="564.5" cy="1037.5" r="4.86"/><circle cx="574.5" cy="1037.5" r="4.86"/><circle cx="602.5" cy="1037.5" r="4.86"/><circle cx="550.5" cy="1046.5" r="4.86"/><circle cx="585.5" cy="1046.5" r="4.86"/><circle cx="558.5" cy="1056.5" r="4.86"/><circle cx="561.5" cy="1056.5" r="4.86"/><circle cx="575.5" cy="1056.5" r="4.86"/><circle cx="587.5" cy="1056.5" r="4.86"/><circle cx="604.5" cy="1056.5" r="4.86"/><circle cx="647.5" cy="1056.5" r="4.86"/><circle cx="657.5" cy="1056.5" r="4.86"/><circle cx="690.5" cy="1066.5" r="4.86"/><circle cx="540.5" cy="1076.5" r="4.86"/><circle cx="544.5" cy="1076.5" r="4.86"/><circle cx="553.5" cy="1076.5" r="4.86"/><circle cx="568.5" cy="1076.5" r="4.86"/><circle cx="591.5" cy="1076.5" r="4.86"/><circle cx="552.5" cy="1086.5" r="4.86"/><circle cx="612.5" cy="1086.5" r="4.86"/><circle cx="615.5" cy="1086.5" r="4.86"/><circle cx="643.5" cy="1086.5" r="4.86"/><circle cx="646.5" cy="1086.5" r="4.86"/><circle cx="656.5" cy="1086.5" r="4.86"/><circle cx="666.5" cy="1086.5" r="4.86"/><circle cx="675.5" cy="1086.5" r="4.86"/><circle cx="684.5" cy="1086.5" r="4.86"/><circle cx="698.5" cy="1086.5" r="4.86"/><circle cx="566.5" cy="1096.5" r="4.86"/><circle cx="594.5" cy="1096.5" r="4.86"/><circle cx="606.5" cy="1096.5" r="4.86"/><circle cx="622.5" cy="1096.5" r="4.86"/><circle cx="625.5" cy="1096.5" r="4.86"/><circle cx="635.5" cy="1096.5" r="4.86"/><circle cx="663.5" cy="1096.5" r="4.86"/><circle cx="676.5" cy="1096.5" r="4.86"/><circle cx="699.5" cy="1096.5" r="4.86"/><circle cx="546.5" cy="1106.5" r="4.86"/><circle cx="562.5" cy="1106.5" r="4.86"/><circle cx="593.5" cy="1106.5" r="4.86"/><circle cx="649.5" cy="1106.5" r="4.86"/><circle cx="654.5" cy="1106.5" r="4.86"/><circle cx="572.5" cy="1116.5" r="4.86"/><circle cx="599.5" cy="1116.5" r="4.86"/><circle cx="603.5" cy="1116.5" r="4.86"/><circle cx="607.5" cy="1116.5" r="4.86"/><circle cx="616.5" cy="1116.5" r="4.86"/><circle cx="619.5" cy="1116.5" r="4.86"/><circle cx="632.5" cy="1116.5" r="4.86"/><circle cx="635.5" cy="1116.5" r="4.86"/><circle cx="638.5" cy="1116.5" r="4.86"/><circle cx="653.5" cy="1116.5" r="4.86"/><circle cx="669.5" cy="1116.5" r="4.86"/><circle cx="673.5" cy="1116.5" r="4.86"/><circle cx="603.5" cy="1125.5" r="4.86"/><circle cx="626.5" cy="1125.5" r="4.86"/><circle cx="644.5" cy="1125.5" r="4.86"/><circle cx="659.5" cy="1125.5" r="4.86"/><circle cx="588.5" cy="1135.5" r="4.86"/><circle cx="609.5" cy="1135.5" r="4.86"/><circle cx="625.5" cy="1135.5" r="4.86"/><circle cx="637.5" cy="1135.5" r="4.86"/><circle cx="679.5" cy="1135.5" r="4.86"/><circle cx="688.5" cy="1135.5" r="4.86"/><circle cx="756.5" cy="1007.5" r="4.86"/><circle cx="738.5" cy="1037.5" r="4.86"/><circle cx="728.5" cy="1076.5" r="4.86"/><circle cx="709.5" cy="1086.5" r="4.86"/><circle cx="712.5" cy="1086.5" r="4.86"/><circle cx="715.5" cy="1086.5" r="4.86"/><circle cx="748.5" cy="1086.5" r="4.86"/><circle cx="735.5" cy="1096.5" r="4.86"/><circle cx="706.5" cy="1106.5" r="4.86"/><circle cx="729.5" cy="1106.5" r="4.86"/><circle cx="757.5" cy="1106.5" r="4.86"/><circle cx="767.5" cy="1106.5" r="4.86"/><circle cx="772.5" cy="1106.5" r="4.86"/><circle cx="760.5" cy="1116.5" r="4.86"/><circle cx="770.5" cy="1116.5" r="4.86"/><circle cx="779.5" cy="1116.5" r="4.86"/><circle cx="719.5" cy="1125.5" r="4.86"/><circle cx="762.5" cy="1125.5" r="4.86"/><circle cx="766.5" cy="1125.5" r="4.86"/><circle cx="770.5" cy="1125.5" r="4.86"/><circle cx="782.5" cy="1125.5" r="4.86"/><circle cx="707.5" cy="1135.5" r="4.86"/><circle cx="717.5" cy="1135.5" r="4.86"/><circle cx="779.5" cy="1135.5" r="4.86"/><circle cx="783.5" cy="1135.5" r="4.86"/><circle cx="60.5" cy="1145.5" r="4.86"/><circle cx="61.5" cy="1145.5" r="4.86"/><circle cx="63.5" cy="1145.5" r="4.86"/><circle cx="64.5" cy="1145.5" r="4.86"/><circle cx="66.5" cy="1145.5" r="4.86"/><circle cx="67.5" cy="1145.5" r="4.86"/><circle cx="69.5" cy="1145.5" r="4.86"/><circle cx="70.5" cy="1145.5" r="4.86"/><circle cx="72.5" cy="1145.5" r="4.86"/><circle cx="73.5" cy="1145.5" r="4.86"/><circle cx="75.5" cy="1145.5" r="4.86"/><circle cx="76.5" cy="1145.5" r="4.86"/><circle cx="78.5" cy="1145.5" r="4.86"/><circle cx="79.5" cy="1145.5" r="4.86"/><circle cx="81.5" cy="1145.5" r="4.86"/><circle cx="82.5" cy="1145.5" r="4.86"/><circle cx="83.5" cy="1145.5" r="4.86"/><circle cx="85.5" cy="1145.5" r="4.86"/><circle cx="86.5" cy="1145.5" r="4.86"/><circle cx="88.5" cy="1145.5" r="4.86"/><circle cx="89.5" cy="1145.5" r="4.86"/><circle cx="91.5" cy="1145.5" r="4.86"/><circle cx="94.5" cy="1145.5" r="4.86"/><circle cx="107.5" cy="1145.5" r="4.86"/><circle cx="108.5" cy="1145.5" r="4.86"/><circle cx="135.5" cy="1145.5" r="4.86"/><circle cx="138.5" cy="1145.5" r="4.86"/><circle cx="139.5" cy="1145.5" r="4.86"/><circle cx="142.5" cy="1145.5" r="4.86"/><circle cx="144.5" cy="1145.5" r="4.86"/><circle cx="155.5" cy="1145.5" r="4.86"/><circle cx="157.5" cy="1145.5" r="4.86"/><circle cx="158.5" cy="1145.5" r="4.86"/><circle cx="166.5" cy="1145.5" r="4.86"/><circle cx="172.5" cy="1145.5" r="4.86"/><circle cx="174.5" cy="1145.5" r="4.86"/><circle cx="177.5" cy="1145.5" r="4.86"/><circle cx="179.5" cy="1145.5" r="4.86"/><circle cx="180.5" cy="1145.5" r="4.86"/><circle cx="182.5" cy="1145.5" r="4.86"/><circle cx="186.5" cy="1145.5" r="4.86"/><circle cx="188.5" cy="1145.5" r="4.86"/><circle cx="189.5" cy="1145.5" r="4.86"/><circle cx="191.5" cy="1145.5" r="4.86"/><circle cx="194.5" cy="1145.5" r="4.86"/><circle cx="195.5" cy="1145.5" r="4.86"/><circle cx="196.5" cy="1145.5" r="4.86"/><circle cx="198.5" cy="1145.5" r="4.86"/><circle cx="199.5" cy="1145.5" r="4.86"/><circle cx="201.5" cy="1145.5" r="4.86"/><circle cx="208.5" cy="1145.5" r="4.86"/><circle cx="210.5" cy="1145.5" r="4.86"/><circle cx="211.5" cy="1145.5" r="4.86"/><circle cx="213.5" cy="1145.5" r="4.86"/><circle cx="214.5" cy="1145.5" r="4.86"/><circle cx="217.5" cy="1145.5" r="4.86"/><circle cx="219.5" cy="1145.5" r="4.86"/><circle cx="220.5" cy="1145.5" r="4.86"/><circle cx="221.5" cy="1145.5" r="4.86"/><circle cx="223.5" cy="1145.5" r="4.86"/><circle cx="224.5" cy="1145.5" r="4.86"/><circle cx="282.5" cy="1145.5" r="4.86"/><circle cx="293.5" cy="1145.5" r="4.86"/><circle cx="296.5" cy="1145.5" r="4.86"/><circle cx="334.5" cy="1145.5" r="4.86"/><circle cx="339.5" cy="1145.5" r="4.86"/><circle cx="343.5" cy="1145.5" r="4.86"/><circle cx="364.5" cy="1145.5" r="4.86"/><circle cx="365.5" cy="1145.5" r="4.86"/><circle cx="395.5" cy="1145.5" r="4.86"/><circle cx="436.5" cy="1145.5" r="4.86"/><circle cx="446.5" cy="1145.5" r="4.86"/><circle cx="452.5" cy="1145.5" r="4.86"/><circle cx="465.5" cy="1145.5" r="4.86"/><circle cx="486.5" cy="1145.5" r="4.86"/><circle cx="494.5" cy="1145.5" r="4.86"/><circle cx="497.5" cy="1145.5" r="4.86"/><circle cx="505.5" cy="1145.5" r="4.86"/><circle cx="528.5" cy="1145.5" r="4.86"/><circle cx="530.5" cy="1145.5" r="4.86"/><circle cx="533.5" cy="1145.5" r="4.86"/><circle cx="547.5" cy="1145.5" r="4.86"/><circle cx="549.5" cy="1145.5" r="4.86"/><circle cx="555.5" cy="1145.5" r="4.86"/><circle cx="565.5" cy="1145.5" r="4.86"/><circle cx="569.5" cy="1145.5" r="4.86"/><circle cx="571.5" cy="1145.5" r="4.86"/><circle cx="577.5" cy="1145.5" r="4.86"/><circle cx="578.5" cy="1145.5" r="4.86"/><circle cx="580.5" cy="1145.5" r="4.86"/><circle cx="581.5" cy="1145.5" r="4.86"/><circle cx="584.5" cy="1145.5" r="4.86"/><circle cx="590.5" cy="1145.5" r="4.86"/><circle cx="596.5" cy="1145.5" r="4.86"/><circle cx="597.5" cy="1145.5" r="4.86"/><circle cx="610.5" cy="1145.5" r="4.86"/><circle cx="621.5" cy="1145.5" r="4.86"/><circle cx="628.5" cy="1145.5" r="4.86"/><circle cx="629.5" cy="1145.5" r="4.86"/><circle cx="631.5" cy="1145.5" r="4.86"/><circle cx="640.5" cy="1145.5" r="4.86"/><circle cx="641.5" cy="1145.5" r="4.86"/><circle cx="660.5" cy="1145.5" r="4.86"/><circle cx="662.5" cy="1145.5" r="4.86"/><circle cx="665.5" cy="1145.5" r="4.86"/><circle cx="668.5" cy="1145.5" r="4.86"/><circle cx="678.5" cy="1145.5" r="4.86"/><circle cx="681.5" cy="1145.5" r="4.86"/><circle cx="682.5" cy="1145.5" r="4.86"/><circle cx="685.5" cy="1145.5" r="4.86"/><circle cx="687.5" cy="1145.5" r="4.86"/><circle cx="691.5" cy="1145.5" r="4.86"/><circle cx="693.5" cy="1145.5" r="4.86"/><circle cx="694.5" cy="1145.5" r="4.86"/><circle cx="695.5" cy="1145.5" r="4.86"/><circle cx="700.5" cy="1145.5" r="4.86"/><circle cx="701.5" cy="1145.5" r="4.86"/><circle cx="703.5" cy="1145.5" r="4.86"/><circle cx="704.5" cy="1145.5" r="4.86"/><circle cx="717.5" cy="1145.5" r="4.86"/><circle cx="720.5" cy="1145.5" r="4.86"/><circle cx="722.5" cy="1145.5" r="4.86"/><circle cx="723.5" cy="1145.5" r="4.86"/><circle cx="725.5" cy="1145.5" r="4.86"/><circle cx="726.5" cy="1145.5" r="4.86"/><circle cx="731.5" cy="1145.5" r="4.86"/><circle cx="732.5" cy="1145.5" r="4.86"/><circle cx="734.5" cy="1145.5" r="4.86"/><circle cx="737.5" cy="1145.5" r="4.86"/><circle cx="739.5" cy="1145.5" r="4.86"/><circle cx="741.5" cy="1145.5" r="4.86"/><circle cx="742.5" cy="1145.5" r="4.86"/><circle cx="744.5" cy="1145.5" r="4.86"/><circle cx="745.5" cy="1145.5" r="4.86"/><circle cx="747.5" cy="1145.5" r="4.86"/><circle cx="750.5" cy="1145.5" r="4.86"/><circle cx="751.5" cy="1145.5" r="4.86"/><circle cx="753.5" cy="1145.5" r="4.86"/><circle cx="754.5" cy="1145.5" r="4.86"/><circle cx="759.5" cy="1145.5" r="4.86"/><circle cx="773.5" cy="1145.5" r="4.86"/><circle cx="775.5" cy="1145.5" r="4.86"/><circle cx="776.5" cy="1145.5" r="4.86"/><circle cx="778.5" cy="1145.5" r="4.86"/><circle cx="784.5" cy="1145.5" r="4.86"/><circle cx="785.5" cy="1145.5" r="4.86"/><circle cx="120.5" cy="1145.5" r="4.86"/><circle cx="124.5" cy="1145.5" r="4.86"/><circle cx="252.5" cy="1145.5" r="4.86"/><circle cx="261.5" cy="1145.5" r="4.86"/><circle cx="271.5" cy="1145.5" r="4.86"/><circle cx="384.5" cy="1145.5" r="4.86"/><circle cx="181.5" cy="1145.5" r="4.86"/><circle cx="184.5" cy="1145.5" r="4.86"/><circle cx="187.5" cy="1145.5" r="4.86"/><circle cx="190.5" cy="1145.5" r="4.86"/><circle cx="193.5" cy="1145.5" r="4.86"/><circle cx="202.5" cy="1145.5" r="4.86"/><circle cx="205.5" cy="1145.5" r="4.86"/><circle cx="226.5" cy="1145.5" r="4.86"/><circle cx="229.5" cy="1145.5" r="4.86"/><circle cx="232.5" cy="1145.5" r="4.86"/><circle cx="235.5" cy="1145.5" r="4.86"/><circle cx="238.5" cy="1145.5" r="4.86"/><circle cx="241.5" cy="1145.5" r="4.86"/><circle cx="244.5" cy="1145.5" r="4.86"/><circle cx="557.5" cy="1145.5" r="4.86"/><circle cx="561.5" cy="1145.5" r="4.86"/><circle cx="573.5" cy="1145.5" r="4.86"/><circle cx="585.5" cy="1145.5" r="4.86"/><circle cx="589.5" cy="1145.5" r="4.86"/><circle cx="593.5" cy="1145.5" r="4.86"/><circle cx="601.5" cy="1145.5" r="4.86"/><circle cx="605.5" cy="1145.5" r="4.86"/><circle cx="609.5" cy="1145.5" r="4.86"/><circle cx="613.5" cy="1145.5" r="4.86"/><circle cx="617.5" cy="1145.5" r="4.86"/><circle cx="625.5" cy="1145.5" r="4.86"/><circle cx="633.5" cy="1145.5" r="4.86"/><circle cx="637.5" cy="1145.5" r="4.86"/><circle cx="645.5" cy="1145.5" r="4.86"/><circle cx="649.5" cy="1145.5" r="4.86"/><circle cx="653.5" cy="1145.5" r="4.86"/><circle cx="657.5" cy="1145.5" r="4.86"/><circle cx="661.5" cy="1145.5" r="4.86"/><circle cx="669.5" cy="1145.5" r="4.86"/><circle cx="673.5" cy="1145.5" r="4.86"/><circle cx="677.5" cy="1145.5" r="4.86"/><circle cx="689.5" cy="1145.5" r="4.86"/><circle cx="697.5" cy="1145.5" r="4.86"/><circle cx="705.5" cy="1145.5" r="4.86"/><circle cx="709.5" cy="1145.5" r="4.86"/><circle cx="713.5" cy="1145.5" r="4.86"/><circle cx="721.5" cy="1145.5" r="4.86"/><circle cx="729.5" cy="1145.5" r="4.86"/><circle cx="733.5" cy="1145.5" r="4.86"/><circle cx="749.5" cy="1145.5" r="4.86"/><circle cx="757.5" cy="1145.5" r="4.86"/><circle cx="761.5" cy="1145.5" r="4.86"/><circle cx="765.5" cy="1145.5" r="4.86"/><circle cx="769.5" cy="1145.5" r="4.86"/><circle cx="777.5" cy="1145.5" r="4.86"/><circle cx="781.5" cy="1145.5" r="4.86"/></g>
<line x1="744" x2="744" y1="592.5" y2="1145.5" stroke="#1f77b4" stroke-opacity="0.5" stroke-width="2.1" stroke-dasharray="7.7 3.33" stroke-dashoffset="7.28"/>
</g>
<line x1="101.50" x2="101.50" y1="1145.5" y2="1150.8" stroke="#000" stroke-width="1"/><line x1="145.50" x2="145.50" y1="1145.5" y2="1148.8" stroke="#000" stroke-width="0.9"/><line x1="191.50" x2="191.50" y1="1145.5" y2="1148.8" stroke="#000" stroke-width="0.9"/><line x1="235.50" x2="235.50" y1="1145.5" y2="1150.8" stroke="#000" stroke-width="1"/><line x1="280.50" x2="280.50" y1="1145.5" y2="1148.8" stroke="#000" stroke-width="0.9"/><line x1="326.50" x2="326.50" y1="1145.5" y2="1148.8" stroke="#000" stroke-width="0.9"/><line x1="370.50" x2="370.50" y1="1145.5" y2="1150.8" stroke="#000" stroke-width="1"/><line x1="415.50" x2="415.50" y1="1145.5" y2="1148.8" stroke="#000" stroke-width="0.9"/><line x1="459.50" x2="459.50" y1="1145.5" y2="1148.8" stroke="#000" stroke-width="0.9"/><line x1="505.50" x2="505.50" y1="1145.5" y2="1150.8" stroke="#000" stroke-width="1"/><line x1="550.50" x2="550.50" y1="1145.5" y2="1148.8" stroke="#000" stroke-width="0.9"/><line x1="591.50" x2="591.50" y1="1145.5" y2="1148.8" stroke="#000" stroke-width="0.9"/><line x1="637.50" x2="637.50" y1="1145.5" y2="1150.8" stroke="#000" stroke-width="1"/><line x1="681.50" x2="681.50" y1="1145.5" y2="1148.8" stroke="#000" stroke-width="0.9"/><line x1="726.50" x2="726.50" y1="1145.5" y2="1148.8" stroke="#000" stroke-width="0.9"/><line x1="770.50" x2="770.50" y1="1145.5" y2="1150.8" stroke="#000" stroke-width="1"/><line x1="60.50" x2="60.50" y1="1145.5" y2="1150.8" stroke="#000" stroke-width="1"/><line x1="785.50" x2="785.50" y1="1145.5" y2="1150.8" stroke="#000" stroke-width="1"/>
<text x="101.50" y="1166.4" font-size="13.89" text-anchor="middle">Apr</text>
<text x="235.50" y="1166.4" font-size="13.89" text-anchor="middle">Jul</text>
<text x="370.50" y="1166.4" font-size="13.89" text-anchor="middle">Oct</text>
<text x="505.00" y="1166.4" font-size="13.89" text-anchor="middle">Jan</text>
<text x="637.50" y="1166.4" font-size="13.89" text-anchor="middle">Apr</text>
<text x="770.50" y="1166.4" font-size="13.89" text-anchor="middle">Jul</text>
<text x="505" y="1181.9" font-size="13.89" text-anchor="middle">2021</text>
<line x1="55.6" x2="60.5" y1="1145.50" y2="1145.50" stroke="#000" stroke-width="1"/>
<text x="50.3" y="1151.10" font-size="13.89" text-anchor="end">0</text>
<line x1="55.6" x2="60.5" y1="1046.50" y2="1046.50" stroke="#000" stroke-width="1"/>
<text x="50.3" y="1052.10" font-size="13.89" text-anchor="end">10</text>
<line x1="55.6" x2="60.5" y1="948.50" y2="948.50" stroke="#000" stroke-width="1"/>
<text x="50.3" y="954.10" font-size="13.89" text-anchor="end">20</text>
<line x1="55.6" x2="60.5" y1="849.50" y2="849.50" stroke="#000" stroke-width="1"/>
<text x="50.3" y="855.10" font-size="13.89" text-anchor="end">30</text>
<line x1="55.6" x2="60.5" y1="750.50" y2="750.50" stroke="#000" stroke-width="1"/>
<text x="50.3" y="756.10" font-size="13.89" text-anchor="end">40</text>
<line x1="55.6" x2="60.5" y1="651.50" y2="651.50" stroke="#000" stroke-width="1"/>
<text x="50.3" y="657.10" font-size="13.89" text-anchor="end">50</text>
<rect x="60.5" y="592.5" width="725.0" height="553.0" fill="none" stroke="#000" stroke-width="1"/>
<rect x="67.5" y="599.5" width="135" height="25" rx="2.8" fill="#fff" fill-opacity="0.8" stroke="#ccc" stroke-width="1.1"/>
<line x1="71.5" x2="101" y1="609.8" y2="609.8" stroke="#1f77b4" stroke-width="2.1"/>
<text x="111" y="615" font-size="13.89">daily deaths</text>
</g>
</svg>
</body></html>
